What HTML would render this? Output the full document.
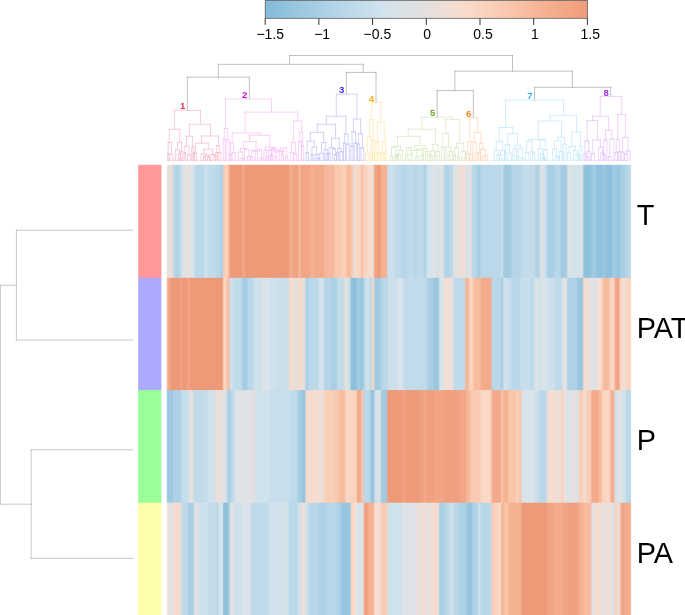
<!DOCTYPE html>
<html><head><meta charset="utf-8"><title>heatmap</title>
<style>
html,body{margin:0;padding:0;background:#fff;}
body{width:685px;height:615px;overflow:hidden;}
svg{display:block;font-family:"Liberation Sans",Arial,sans-serif;}
</style></head><body>
<svg width="685" height="615" viewBox="0 0 685 615">
<rect width="685" height="615" fill="#fff"/>
<defs><linearGradient id="cg" x1="0" x2="1" y1="0" y2="0"><stop offset="0.0000" stop-color="#82BADA"/><stop offset="0.1250" stop-color="#9FCAE1"/><stop offset="0.2500" stop-color="#BAD8EA"/><stop offset="0.3750" stop-color="#D3E3EC"/><stop offset="0.5000" stop-color="#E5E0DE"/><stop offset="0.6250" stop-color="#F9DBCB"/><stop offset="0.7500" stop-color="#F9C8AE"/><stop offset="0.8750" stop-color="#F5B090"/><stop offset="1.0000" stop-color="#EF9C7A"/></linearGradient></defs><rect x="265.2" y="0.35" width="322.2" height="17.95" fill="url(#cg)" stroke="#555" stroke-width="0.75"/><path d="M265.2 18.3L265.2 24.9M318.9 18.3L318.9 24.9M372.6 18.3L372.6 24.9M426.3 18.3L426.3 24.9M480.0 18.3L480.0 24.9M533.7 18.3L533.7 24.9M587.4 18.3L587.4 24.9" stroke="#333" stroke-width="1" fill="none"/><g font-size="14px" fill="#000"><text transform="translate(256.4,39.2) scale(1,1.045)">−1.5</text><text transform="translate(314.2,39.2) scale(1,1.045)">−1</text><text transform="translate(363.6,39.2) scale(1,1.045)">−0.5</text><text transform="translate(423.3,39.2) scale(1,1.045)">0</text><text transform="translate(473.3,39.2) scale(1,1.045)">0.5</text><text transform="translate(531.0,39.2) scale(1,1.045)">1</text><text transform="translate(580.6,39.2) scale(1,1.045)">1.5</text></g>
<path d="M289.6 55.5L512.5 55.5M289.6 55.5L289.6 64.3M512.5 55.5L512.5 71.2M218.3 64.3L363.2 64.3M218.3 64.3L218.3 77.2M363.2 64.3L363.2 72.4M187.3 77.2L249.3 77.2M187.3 77.2L187.3 110.3M249.3 77.2L249.3 98.9M346.3 72.4L376.0 72.4M346.3 72.4L346.3 94.2M376.0 72.4L376.0 102.4M454.8 71.2L572.4 71.2M454.8 71.2L454.8 90.6M572.4 71.2L572.4 87.3M437.2 90.6L473.3 90.6M437.2 90.6L437.2 117.2M473.3 90.6L473.3 117.5M534.6 87.3L610.7 87.3M534.6 87.3L534.6 100.2M610.7 87.3L610.7 96.4" stroke="#9A9A9A" stroke-width="0.62" fill="none" stroke-linecap="square"/>
<path d="M167.6 160.3L167.6 153.7M167.6 153.7L168.8 153.7M168.8 153.7L168.8 160.3M169.8 160.3L169.8 154.3M169.8 154.3L173.0 154.3M173.0 154.3L173.0 160.3M168.2 153.7L168.2 142.4M168.2 142.4L171.4 142.4M171.4 142.4L171.4 154.3M178.1 160.3L178.1 154.3M178.1 154.3L180.6 154.3M180.6 154.3L180.6 160.3M175.6 160.3L175.6 149.9M175.6 149.9L179.4 149.9M179.4 149.9L179.4 154.3M179.4 160.3L179.4 158.5M179.4 158.5L181.2 158.5M181.2 158.5L181.2 160.3M180.3 158.5L180.3 151.8M180.3 151.8L182.9 151.8M182.9 151.8L182.9 160.3M177.5 149.9L177.5 142.4M177.5 142.4L181.6 142.4M181.6 142.4L181.6 151.8M169.3 142.4L169.3 129.3M169.3 129.3L179.8 129.3M179.8 129.3L179.8 142.4M184.2 160.3L184.2 153.0M184.2 153.0L185.4 153.0M185.4 153.0L185.4 160.3M187.4 160.3L187.4 154.7M187.4 154.7L190.4 154.7M190.4 154.7L190.4 160.3M184.8 153.0L184.8 146.3M184.8 146.3L188.9 146.3M188.9 146.3L188.9 154.7M193.0 160.3L193.0 153.3M193.0 153.3L194.2 153.3M194.2 153.3L194.2 160.3M191.8 160.3L191.8 147.0M191.8 147.0L193.6 147.0M193.6 147.0L193.6 153.3M186.5 146.3L186.5 136.2M186.5 136.2L192.5 136.2M192.5 136.2L192.5 147.0M194.1 160.3L194.1 153.2M194.1 153.2L196.6 153.2M196.6 153.2L196.6 160.3M203.3 160.3L203.3 157.0M203.3 157.0L205.4 157.0M205.4 157.0L205.4 160.3M207.5 160.3L207.5 157.0M207.5 157.0L209.6 157.0M209.6 157.0L209.6 160.3M204.3 157.0L204.3 155.5M204.3 155.5L208.6 155.5M208.6 155.5L208.6 157.0M201.1 160.3L201.1 154.0M201.1 154.0L206.5 154.0M206.5 154.0L206.5 155.5M213.1 160.3L213.1 156.0M213.1 156.0L216.0 156.0M216.0 156.0L216.0 160.3M210.3 160.3L210.3 154.5M210.3 154.5L214.5 154.5M214.5 154.5L214.5 156.0M203.8 154.0L203.8 149.2M203.8 149.2L212.4 149.2M212.4 149.2L212.4 154.5M195.3 153.2L195.3 143.2M195.3 143.2L208.3 143.2M208.3 143.2L208.3 149.2M215.8 160.3L215.8 152.6M215.8 152.6L217.8 152.6M217.8 152.6L217.8 160.3M218.2 160.3L218.2 152.8M218.2 152.8L220.9 152.8M220.9 152.8L220.9 160.3M216.8 152.6L216.8 145.6M216.8 145.6L219.6 145.6M219.6 145.6L219.6 152.8M201.5 143.2L201.5 136.0M201.5 136.0L218.4 136.0M218.4 136.0L218.4 145.6M189.4 136.2L189.4 124.3M189.4 124.3L210.5 124.3M210.5 124.3L210.5 136.0M174.5 129.3L174.5 110.3M174.5 110.3L200.5 110.3M200.5 110.3L200.5 124.3" stroke="#F4AFC2" stroke-width="0.62" fill="none" stroke-linecap="square"/><path d="M167.3 160.3L221.5 160.3" stroke="#F4AFC2" stroke-width="0.7" stroke-dasharray="3.4 1.2" fill="none"/><path d="M223.3 160.3L223.3 139.0M223.3 139.0L225.3 139.0M225.3 139.0L225.3 160.3M226.2 160.3L226.2 140.0M226.2 140.0L229.0 140.0M229.0 140.0L229.0 160.3M224.3 139.0L224.3 128.4M224.3 128.4L227.6 128.4M227.6 128.4L227.6 140.0M229.9 160.3L229.9 154.6M229.9 154.6L231.1 154.6M231.1 154.6L231.1 160.3M232.1 160.3L232.1 152.8M232.1 152.8L235.2 152.8M235.2 152.8L235.2 160.3M230.5 154.6L230.5 142.6M230.5 142.6L233.6 142.6M233.6 142.6L233.6 152.8M241.1 160.3L241.1 158.5M241.1 158.5L243.8 158.5M243.8 158.5L243.8 160.3M238.3 160.3L238.3 152.0M238.3 152.0L242.5 152.0M242.5 152.0L242.5 158.5M247.4 160.3L247.4 156.5M247.4 156.5L250.1 156.5M250.1 156.5L250.1 160.3M244.6 160.3L244.6 149.2M244.6 149.2L248.8 149.2M248.8 149.2L248.8 156.5M240.4 152.0L240.4 148.5M240.4 148.5L246.7 148.5M246.7 148.5L246.7 149.2M250.4 160.3L250.4 157.1M250.4 157.1L252.9 157.1M252.9 157.1L252.9 160.3M251.6 157.1L251.6 150.3M251.6 150.3L255.4 150.3M255.4 150.3L255.4 160.3M260.1 160.3L260.1 158.2M260.1 158.2L262.8 158.2M262.8 158.2L262.8 160.3M257.3 160.3L257.3 149.3M257.3 149.3L261.5 149.3M261.5 149.3L261.5 158.2M253.5 150.3L253.5 151.1M253.5 151.1L259.4 151.1M259.4 151.1L259.4 149.3M243.4 148.5L243.4 141.5M243.4 141.5L256.1 141.5M256.1 141.5L256.1 151.1M265.8 160.3L265.8 156.8M265.8 156.8L267.7 156.8M267.7 156.8L267.7 160.3M263.9 160.3L263.9 150.2M263.9 150.2L266.7 150.2M266.7 150.2L266.7 156.8M270.3 160.3L270.3 155.7M270.3 155.7L272.1 155.7M272.1 155.7L272.1 160.3M268.6 160.3L268.6 150.3M268.6 150.3L271.2 150.3M271.2 150.3L271.2 155.7M270.9 160.3L270.9 155.1M270.9 155.1L272.9 155.1M272.9 155.1L272.9 160.3M274.9 160.3L274.9 156.4M274.9 156.4L276.9 156.4M276.9 156.4L276.9 160.3M271.9 155.1L271.9 148.1M271.9 148.1L275.9 148.1M275.9 148.1L275.9 156.4M281.3 160.3L281.3 154.4M281.3 154.4L283.4 154.4M283.4 154.4L283.4 160.3M279.2 160.3L279.2 150.8M279.2 150.8L282.4 150.8M282.4 150.8L282.4 154.4M285.6 160.3L285.6 156.8M285.6 156.8L287.7 156.8M287.7 156.8L287.7 160.3M280.8 150.8L280.8 147.8M280.8 147.8L286.6 147.8M286.6 147.8L286.6 156.8M273.9 148.1L273.9 151.8M273.9 151.8L283.7 151.8M283.7 151.8L283.7 147.8M269.9 150.3L269.9 149.8M269.9 149.8L278.5 149.8M278.5 149.8L278.5 151.8M265.3 150.2L265.3 147.2M265.3 147.2L273.9 147.2M273.9 147.2L273.9 149.8M249.6 141.5L249.6 135.3M249.6 135.3L269.7 135.3M269.7 135.3L269.7 147.2M232.2 142.6L232.2 133.1M232.2 133.1L259.7 133.1M259.7 133.1L259.7 135.3M290.1 160.3L290.1 152.4M290.1 152.4L293.2 152.4M293.2 152.4L293.2 160.3M293.9 160.3L293.9 153.9M293.9 153.9L296.7 153.9M296.7 153.9L296.7 160.3M291.6 152.4L291.6 142.6M291.6 142.6L295.3 142.6M295.3 142.6L295.3 153.9M298.4 160.3L298.4 142.0M298.4 142.0L301.4 142.0M301.4 142.0L301.4 160.3M301.5 160.3L301.5 146.0M301.5 146.0L303.7 146.0M303.7 146.0L303.7 160.3M299.9 142.0L299.9 132.3M299.9 132.3L302.6 132.3M302.6 132.3L302.6 146.0M293.3 142.6L293.3 120.9M293.3 120.9L301.7 120.9M301.7 120.9L301.7 132.3M245.2 133.1L245.2 112.1M245.2 112.1L297.8 112.1M297.8 112.1L297.8 120.9M225.5 128.4L225.5 98.9M225.5 98.9L271.5 98.9M271.5 98.9L271.5 112.1" stroke="#F6B6F4" stroke-width="0.62" fill="none" stroke-linecap="square"/><path d="M223.2 160.3L304.0 160.3" stroke="#F6B6F4" stroke-width="0.7" stroke-dasharray="3.4 1.2" fill="none"/><path d="M306.0 160.3L306.0 152.8M306.0 152.8L308.4 152.8M308.4 152.8L308.4 160.3M311.0 160.3L311.0 154.8M311.0 154.8L313.0 154.8M313.0 154.8L313.0 160.3M317.1 160.3L317.1 158.2M317.1 158.2L319.2 158.2M319.2 158.2L319.2 160.3M315.1 160.3L315.1 154.6M315.1 154.6L318.1 154.6M318.1 154.6L318.1 158.2M312.0 154.8L312.0 147.0M312.0 147.0L316.6 147.0M316.6 147.0L316.6 154.6M307.2 152.8L307.2 141.2M307.2 141.2L314.3 141.2M314.3 141.2L314.3 147.0M319.8 160.3L319.8 153.3M319.8 153.3L323.1 153.3M323.1 153.3L323.1 160.3M326.2 160.3L326.2 153.7M326.2 153.7L328.0 153.7M328.0 153.7L328.0 160.3M324.3 160.3L324.3 149.5M324.3 149.5L327.1 149.5M327.1 149.5L327.1 153.7M321.5 153.3L321.5 142.6M321.5 142.6L325.7 142.6M325.7 142.6L325.7 149.5M310.4 141.2L310.4 132.4M310.4 132.4L323.6 132.4M323.6 132.4L323.6 142.6M328.1 160.3L328.1 153.3M328.1 153.3L330.1 153.3M330.1 153.3L330.1 160.3M334.5 160.3L334.5 154.6M334.5 154.6L336.4 154.6M336.4 154.6L336.4 160.3M332.6 160.3L332.6 148.8M332.6 148.8L335.4 148.8M335.4 148.8L335.4 154.6M329.1 153.3L329.1 147.7M329.1 147.7L334.0 147.7M334.0 147.7L334.0 148.8M336.8 160.3L336.8 152.8M336.8 152.8L338.6 152.8M338.6 152.8L338.6 160.3M340.0 160.3L340.0 151.7M340.0 151.7L342.7 151.7M342.7 151.7L342.7 160.3M337.7 152.8L337.7 148.5M337.7 148.5L341.3 148.5M341.3 148.5L341.3 151.7M331.5 147.7L331.5 138.4M331.5 138.4L339.3 138.4M339.3 138.4L339.3 148.5M317.3 132.4L317.3 124.3M317.3 124.3L335.6 124.3M335.6 124.3L335.6 138.4M343.5 160.3L343.5 143.0M343.5 143.0L345.3 143.0M345.3 143.0L345.3 160.3M346.4 160.3L346.4 144.0M346.4 144.0L349.3 144.0M349.3 144.0L349.3 160.3M344.4 143.0L344.4 134.2M344.4 134.2L347.9 134.2M347.9 134.2L347.9 144.0M326.4 124.3L326.4 116.2M326.4 116.2L345.8 116.2M345.8 116.2L345.8 134.2M350.9 160.3L350.9 146.0M350.9 146.0L353.1 146.0M353.1 146.0L353.1 160.3M354.2 160.3L354.2 143.0M354.2 143.0L356.8 143.0M356.8 143.0L356.8 160.3M352.0 146.0L352.0 131.9M352.0 131.9L355.5 131.9M355.5 131.9L355.5 143.0M357.3 160.3L357.3 144.0M357.3 144.0L359.3 144.0M359.3 144.0L359.3 160.3M360.9 160.3L360.9 148.0M360.9 148.0L363.8 148.0M363.8 148.0L363.8 160.3M358.3 144.0L358.3 133.8M358.3 133.8L362.4 133.8M362.4 133.8L362.4 148.0M353.4 131.9L353.4 119.0M353.4 119.0L360.6 119.0M360.6 119.0L360.6 133.8M336.3 116.2L336.3 94.2M336.3 94.2L356.9 94.2M356.9 94.2L356.9 119.0" stroke="#B8B8F8" stroke-width="0.62" fill="none" stroke-linecap="square"/><path d="M306.2 160.3L363.5 160.3" stroke="#B8B8F8" stroke-width="0.7" stroke-dasharray="3.4 1.2" fill="none"/><path d="M365.7 160.3L365.7 153.7M365.7 153.7L368.9 153.7M368.9 153.7L368.9 160.3M370.2 160.3L370.2 152.4M370.2 152.4L372.0 152.4M372.0 152.4L372.0 160.3M367.3 153.7L367.3 136.6M367.3 136.6L371.1 136.6M371.1 136.6L371.1 152.4M372.5 160.3L372.5 140.0M372.5 140.0L374.5 140.0M374.5 140.0L374.5 160.3M369.3 136.6L369.3 119.7M369.3 119.7L373.5 119.7M373.5 119.7L373.5 140.0M377.7 160.3L377.7 152.7M377.7 152.7L379.9 152.7M379.9 152.7L379.9 160.3M376.0 160.3L376.0 142.1M376.0 142.1L378.8 142.1M378.8 142.1L378.8 152.7M381.4 160.3L381.4 152.8M381.4 152.8L383.6 152.8M383.6 152.8L383.6 160.3M384.6 160.3L384.6 153.2M384.6 153.2L386.8 153.2M386.8 153.2L386.8 160.3M382.5 152.8L382.5 141.2M382.5 141.2L385.7 141.2M385.7 141.2L385.7 153.2M377.4 142.1L377.4 122.4M377.4 122.4L384.3 122.4M384.3 122.4L384.3 141.2M371.4 119.7L371.4 102.4M371.4 102.4L380.7 102.4M380.7 102.4L380.7 122.4" stroke="#FFE49B" stroke-width="0.62" fill="none" stroke-linecap="square"/><path d="M365.0 160.3L386.8 160.3" stroke="#FFE49B" stroke-width="0.7" stroke-dasharray="3.4 1.2" fill="none"/><path d="M390.3 160.3L390.3 156.2M390.3 156.2L392.6 156.2M392.6 156.2L392.6 160.3M395.0 160.3L395.0 155.1M395.0 155.1L397.3 155.1M397.3 155.1L397.3 160.3M391.5 156.2L391.5 147.4M391.5 147.4L396.1 147.4M396.1 147.4L396.1 155.1M396.1 160.3L396.1 155.9M396.1 155.9L398.2 155.9M398.2 155.9L398.2 160.3M397.1 155.9L397.1 154.4M397.1 154.4L400.3 154.4M400.3 154.4L400.3 160.3M398.7 154.4L398.7 150.1M398.7 150.1L402.5 150.1M402.5 150.1L402.5 160.3M393.8 147.4L393.8 146.4M393.8 146.4L400.6 146.4M400.6 146.4L400.6 150.1M405.6 160.3L405.6 154.9M405.6 154.9L407.9 154.9M407.9 154.9L407.9 160.3M410.3 160.3L410.3 153.9M410.3 153.9L412.6 153.9M412.6 153.9L412.6 160.3M406.8 154.9L406.8 147.4M406.8 147.4L411.4 147.4M411.4 147.4L411.4 153.9M415.6 160.3L415.6 156.8M415.6 156.8L418.2 156.8M418.2 156.8L418.2 160.3M420.8 160.3L420.8 155.4M420.8 155.4L423.4 155.4M423.4 155.4L423.4 160.3M416.9 156.8L416.9 149.1M416.9 149.1L422.1 149.1M422.1 149.1L422.1 155.4M409.1 147.4L409.1 150.4M409.1 150.4L419.5 150.4M419.5 150.4L419.5 149.1M427.7 160.3L427.7 154.7M427.7 154.7L429.9 154.7M429.9 154.7L429.9 160.3M425.4 160.3L425.4 151.7M425.4 151.7L428.8 151.7M428.8 151.7L428.8 154.7M423.1 160.3L423.1 148.6M423.1 148.6L427.1 148.6M427.1 148.6L427.1 151.7M414.7 150.4L414.7 145.6M414.7 145.6L425.1 145.6M425.1 145.6L425.1 148.6M397.4 146.4L397.4 136.3M397.4 136.3L420.0 136.3M420.0 136.3L420.0 145.6M430.1 160.3L430.1 156.1M430.1 156.1L432.2 156.1M432.2 156.1L432.2 160.3M431.1 156.1L431.1 150.8M431.1 150.8L434.3 150.8M434.3 150.8L434.3 160.3M434.8 160.3L434.8 155.8M434.8 155.8L437.1 155.8M437.1 155.8L437.1 160.3M436.0 155.8L436.0 151.6M436.0 151.6L439.4 151.6M439.4 151.6L439.4 160.3M432.7 150.8L432.7 144.3M432.7 144.3L437.7 144.3M437.7 144.3L437.7 151.6M408.3 136.3L408.3 129.2M408.3 129.2L435.6 129.2M435.6 129.2L435.6 144.3M441.4 160.3L441.4 147.0M441.4 147.0L444.2 147.0M444.2 147.0L444.2 160.3M448.1 160.3L448.1 155.8M448.1 155.8L450.3 155.8M450.3 155.8L450.3 160.3M449.2 155.8L449.2 151.4M449.2 151.4L452.5 151.4M452.5 151.4L452.5 160.3M446.0 160.3L446.0 147.0M446.0 147.0L450.8 147.0M450.8 147.0L450.8 151.4M442.8 147.0L442.8 133.5M442.8 133.5L448.4 133.5M448.4 133.5L448.4 147.0M453.6 160.3L453.6 155.0M453.6 155.0L455.5 155.0M455.5 155.0L455.5 160.3M457.5 160.3L457.5 156.7M457.5 156.7L459.4 156.7M459.4 156.7L459.4 160.3M454.6 155.0L454.6 147.8M454.6 147.8L458.4 147.8M458.4 147.8L458.4 156.7M464.3 160.3L464.3 157.8M464.3 157.8L466.6 157.8M466.6 157.8L466.6 160.3M461.9 160.3L461.9 151.4M461.9 151.4L465.5 151.4M465.5 151.4L465.5 157.8M456.5 147.8L456.5 143.2M456.5 143.2L463.7 143.2M463.7 143.2L463.7 151.4M445.7 133.5L445.7 119.4M445.7 119.4L459.7 119.4M459.7 119.4L459.7 143.2M421.9 129.2L421.9 117.2M421.9 117.2L452.8 117.2M452.8 117.2L452.8 119.4" stroke="#D0E3B6" stroke-width="0.62" fill="none" stroke-linecap="square"/><path d="M388.5 160.3L464.5 160.3" stroke="#D0E3B6" stroke-width="0.7" stroke-dasharray="3.4 1.2" fill="none"/><path d="M466.3 160.3L466.3 154.0M466.3 154.0L469.1 154.0M469.1 154.0L469.1 160.3M469.7 160.3L469.7 154.0M469.7 154.0L472.1 154.0M472.1 154.0L472.1 160.3M467.7 154.0L467.7 141.6M467.7 141.6L470.9 141.6M470.9 141.6L470.9 154.0M475.2 160.3L475.2 153.1M475.2 153.1L477.2 153.1M477.2 153.1L477.2 160.3M472.9 160.3L472.9 142.0M472.9 142.0L476.2 142.0M476.2 142.0L476.2 153.1M478.6 160.3L478.6 152.7M478.6 152.7L480.8 152.7M480.8 152.7L480.8 160.3M482.7 160.3L482.7 156.9M482.7 156.9L485.0 156.9M485.0 156.9L485.0 160.3M483.9 156.9L483.9 155.4M483.9 155.4L487.4 155.4M487.4 155.4L487.4 160.3M480.4 160.3L480.4 149.4M480.4 149.4L485.6 149.4M485.6 149.4L485.6 155.4M479.7 152.7L479.7 143.2M479.7 143.2L483.0 143.2M483.0 143.2L483.0 149.4M474.6 142.0L474.6 132.3M474.6 132.3L481.0 132.3M481.0 132.3L481.0 143.2M469.6 141.6L469.6 117.5M469.6 117.5L477.7 117.5M477.7 117.5L477.7 132.3" stroke="#FFCFAD" stroke-width="0.62" fill="none" stroke-linecap="square"/><path d="M465.8 160.3L490.5 160.3" stroke="#FFCFAD" stroke-width="0.7" stroke-dasharray="3.4 1.2" fill="none"/><path d="M496.8 160.3L496.8 155.0M496.8 155.0L499.4 155.0M499.4 155.0L499.4 160.3M494.3 160.3L494.3 150.2M494.3 150.2L498.1 150.2M498.1 150.2L498.1 155.0M499.4 160.3L499.4 155.2M499.4 155.2L501.9 155.2M501.9 155.2L501.9 160.3M500.7 155.2L500.7 150.4M500.7 150.4L504.6 150.4M504.6 150.4L504.6 160.3M496.2 150.2L496.2 141.4M496.2 141.4L502.6 141.4M502.6 141.4L502.6 150.4M504.5 160.3L504.5 152.2M504.5 152.2L505.9 152.2M505.9 152.2L505.9 160.3M507.9 160.3L507.9 153.2M507.9 153.2L511.1 153.2M511.1 153.2L511.1 160.3M505.2 152.2L505.2 144.7M505.2 144.7L509.5 144.7M509.5 144.7L509.5 153.2M512.1 160.3L512.1 155.1M512.1 155.1L514.3 155.1M514.3 155.1L514.3 160.3M513.2 155.1L513.2 149.1M513.2 149.1L516.4 149.1M516.4 149.1L516.4 160.3M517.1 160.3L517.1 156.6M517.1 156.6L519.2 156.6M519.2 156.6L519.2 160.3M521.2 160.3L521.2 158.2M521.2 158.2L523.4 158.2M523.4 158.2L523.4 160.3M518.1 156.6L518.1 148.3M518.1 148.3L522.3 148.3M522.3 148.3L522.3 158.2M514.8 149.1L514.8 145.3M514.8 145.3L520.2 145.3M520.2 145.3L520.2 148.3M507.7 144.7L507.7 133.5M507.7 133.5L517.4 133.5M517.4 133.5L517.4 145.3M499.2 141.4L499.2 127.5M499.2 127.5L512.7 127.5M512.7 127.5L512.7 133.5M525.3 160.3L525.3 152.6M525.3 152.6L528.3 152.6M528.3 152.6L528.3 160.3M532.6 160.3L532.6 153.4M532.6 153.4L534.9 153.4M534.9 153.4L534.9 160.3M530.3 160.3L530.3 151.9M530.3 151.9L533.7 151.9M533.7 151.9L533.7 153.4M526.8 152.6L526.8 141.0M526.8 141.0L532.0 141.0M532.0 141.0L532.0 151.9M542.8 160.3L542.8 158.2M542.8 158.2L545.2 158.2M545.2 158.2L545.2 160.3M540.5 160.3L540.5 154.3M540.5 154.3L544.0 154.3M544.0 154.3L544.0 158.2M538.2 160.3L538.2 148.8M538.2 148.8L542.2 148.8M542.2 148.8L542.2 154.3M542.3 160.3L542.3 158.2M542.3 158.2L544.8 158.2M544.8 158.2L544.8 160.3M543.5 158.2L543.5 150.2M543.5 150.2L547.3 150.2M547.3 150.2L547.3 160.3M540.2 148.8L540.2 139.8M540.2 139.8L545.4 139.8M545.4 139.8L545.4 150.2M528.8 141.0L528.8 139.5M528.8 139.5L543.8 139.5M543.8 139.5L543.8 139.8M557.1 160.3L557.1 157.4M557.1 157.4L559.4 157.4M559.4 157.4L559.4 160.3M554.8 160.3L554.8 155.9M554.8 155.9L558.2 155.9M558.2 155.9L558.2 157.4M552.5 160.3L552.5 149.0M552.5 149.0L556.5 149.0M556.5 149.0L556.5 155.9M561.6 160.3L561.6 153.5M561.6 153.5L563.8 153.5M563.8 153.5L563.8 160.3M559.3 160.3L559.3 151.6M559.3 151.6L562.7 151.6M562.7 151.6L562.7 153.5M554.5 149.0L554.5 141.0M554.5 141.0L561.0 141.0M561.0 141.0L561.0 151.6M563.0 160.3L563.0 144.0M563.0 144.0L566.2 144.0M566.2 144.0L566.2 160.3M557.7 141.0L557.7 137.4M557.7 137.4L564.6 137.4M564.6 137.4L564.6 144.0M538.4 139.5L538.4 121.1M538.4 121.1L561.6 121.1M561.6 121.1L561.6 137.4M567.7 160.3L567.7 152.7M567.7 152.7L570.5 152.7M570.5 152.7L570.5 160.3M576.1 160.3L576.1 154.1M576.1 154.1L578.8 154.1M578.8 154.1L578.8 160.3M573.5 160.3L573.5 150.5M573.5 150.5L577.5 150.5M577.5 150.5L577.5 154.1M569.1 152.7L569.1 146.4M569.1 146.4L575.5 146.4M575.5 146.4L575.5 150.5M578.3 160.3L578.3 156.2M578.3 156.2L580.2 156.2M580.2 156.2L580.2 160.3M579.3 156.2L579.3 146.0M579.3 146.0L582.1 146.0M582.1 146.0L582.1 160.3M571.7 146.4L571.7 132.0M571.7 132.0L580.7 132.0M580.7 132.0L580.7 146.0M550.2 121.1L550.2 115.3M550.2 115.3L576.6 115.3M576.6 115.3L576.6 132.0M505.6 127.5L505.6 100.2M505.6 100.2L563.5 100.2M563.5 100.2L563.5 115.3" stroke="#B8E3F9" stroke-width="0.62" fill="none" stroke-linecap="square"/><path d="M492.5 160.3L582.0 160.3" stroke="#B8E3F9" stroke-width="0.7" stroke-dasharray="3.4 1.2" fill="none"/><path d="M584.1 160.3L584.1 153.7M584.1 153.7L585.9 153.7M585.9 153.7L585.9 160.3M586.3 160.3L586.3 156.9M586.3 156.9L588.2 156.9M588.2 156.9L588.2 160.3M587.2 156.9L587.2 151.7M587.2 151.7L590.2 151.7M590.2 151.7L590.2 160.3M585.0 153.7L585.0 141.0M585.0 141.0L588.7 141.0M588.7 141.0L588.7 151.7M591.4 160.3L591.4 153.9M591.4 153.9L594.3 153.9M594.3 153.9L594.3 160.3M603.0 160.3L603.0 154.7M603.0 154.7L605.2 154.7M605.2 154.7L605.2 160.3M600.7 160.3L600.7 153.2M600.7 153.2L604.1 153.2M604.1 153.2L604.1 154.7M598.4 160.3L598.4 147.4M598.4 147.4L602.4 147.4M602.4 147.4L602.4 153.2M592.9 153.9L592.9 140.0M592.9 140.0L600.4 140.0M600.4 140.0L600.4 147.4M587.1 141.0L587.1 120.6M587.1 120.6L597.4 120.6M597.4 120.6L597.4 140.0M603.9 160.3L603.9 140.0M603.9 140.0L606.9 140.0M606.9 140.0L606.9 160.3M608.3 160.3L608.3 156.8M608.3 156.8L611.1 156.8M611.1 156.8L611.1 160.3M609.7 156.8L609.7 139.0M609.7 139.0L613.9 139.0M613.9 139.0L613.9 160.3M605.4 140.0L605.4 130.3M605.4 130.3L611.8 130.3M611.8 130.3L611.8 139.0M592.5 120.6L592.5 116.3M592.5 116.3L608.6 116.3M608.6 116.3L608.6 130.3M615.0 160.3L615.0 152.4M615.0 152.4L617.5 152.4M617.5 152.4L617.5 160.3M618.4 160.3L618.4 151.6M618.4 151.6L620.2 151.6M620.2 151.6L620.2 160.3M616.3 152.4L616.3 139.5M616.3 139.5L619.3 139.5M619.3 139.5L619.3 151.6M621.2 160.3L621.2 152.1M621.2 152.1L623.8 152.1M623.8 152.1L623.8 160.3M624.6 160.3L624.6 154.1M624.6 154.1L627.3 154.1M627.3 154.1L627.3 160.3M626.0 154.1L626.0 151.1M626.0 151.1L630.0 151.1M630.0 151.1L630.0 160.3M622.5 152.1L622.5 137.4M622.5 137.4L628.0 137.4M628.0 137.4L628.0 151.1M617.8 139.5L617.8 114.6M617.8 114.6L625.3 114.6M625.3 114.6L625.3 137.4M600.2 116.3L600.2 96.4M600.2 96.4L621.7 96.4M621.7 96.4L621.7 114.6" stroke="#E2B8F6" stroke-width="0.62" fill="none" stroke-linecap="square"/><path d="M583.6 160.3L630.6 160.3" stroke="#E2B8F6" stroke-width="0.7" stroke-dasharray="3.4 1.2" fill="none"/>
<path d="M16.4 230.2L133.0 230.2M16.4 340.1L133.0 340.1M16.4 230.2L16.4 340.1M31.2 449.8L133.0 449.8M31.2 558.4L133.0 558.4M31.2 449.8L31.2 558.4M0.4 285.3L16.4 285.3M0.4 504.2L31.2 504.2M0.4 285.3L0.4 504.2" stroke="#A8A8A8" stroke-width="0.62" fill="none" stroke-linecap="square"/>
<g font-size="9.6px" font-weight="bold"><text x="185.4" y="109.4" fill="#E2305C" text-anchor="end">1</text><text x="247.4" y="98.0" fill="#E010D8" text-anchor="end">2</text><text x="344.4" y="93.3" fill="#3A32E0" text-anchor="end">3</text><text x="374.1" y="101.5" fill="#F2B01E" text-anchor="end">4</text><text x="435.3" y="116.3" fill="#6FA51C" text-anchor="end">5</text><text x="471.4" y="116.6" fill="#F58A1F" text-anchor="end">6</text><text x="532.7" y="99.3" fill="#2FB2F0" text-anchor="end">7</text><text x="608.8" y="95.5" fill="#A32EE2" text-anchor="end">8</text></g>
<rect x="138.2" y="164.8" width="23.2" height="113.9" fill="#FF9999"/><rect x="138.2" y="277.8" width="23.2" height="113.4" fill="#AAAAFF"/><rect x="138.2" y="390.1" width="23.2" height="113.6" fill="#99FF99"/><rect x="138.2" y="502.7" width="23.2" height="113.3" fill="#FFFFAA"/>
<g><rect x="166" y="164.8" width="1" height="113.9" fill="#FAF9F8"/><rect x="167" y="164.8" width="1" height="113.9" fill="#E9E5E3"/><rect x="168" y="164.8" width="2" height="113.9" fill="#E5E0DE"/><rect x="170" y="164.8" width="1" height="113.9" fill="#E7E0DC"/><rect x="171" y="164.8" width="1" height="113.9" fill="#EDDED5"/><rect x="172" y="164.8" width="1" height="113.9" fill="#E4DCD7"/><rect x="173" y="164.8" width="1" height="113.9" fill="#C4D9E5"/><rect x="174" y="164.8" width="1" height="113.9" fill="#BAD8EA"/><rect x="175" y="164.8" width="1" height="113.9" fill="#B7D7E9"/><rect x="176" y="164.8" width="1" height="113.9" fill="#B0D2E7"/><rect x="177" y="164.8" width="1" height="113.9" fill="#AED2E6"/><rect x="178" y="164.8" width="1" height="113.9" fill="#B3D4E8"/><rect x="179" y="164.8" width="1" height="113.9" fill="#B8D7EA"/><rect x="180" y="164.8" width="1" height="113.9" fill="#BED9EA"/><rect x="181" y="164.8" width="1" height="113.9" fill="#CCDEE9"/><rect x="182" y="164.8" width="1" height="113.9" fill="#DAE2E8"/><rect x="183" y="164.8" width="3" height="113.9" fill="#DDE3E8"/><rect x="186" y="164.8" width="1" height="113.9" fill="#E0E2E5"/><rect x="187" y="164.8" width="1" height="113.9" fill="#E9DFDB"/><rect x="188" y="164.8" width="1" height="113.9" fill="#EDDDD6"/><rect x="189" y="164.8" width="1" height="113.9" fill="#EADED9"/><rect x="190" y="164.8" width="1" height="113.9" fill="#DCE2E6"/><rect x="191" y="164.8" width="2" height="113.9" fill="#D8E3EA"/><rect x="193" y="164.8" width="1" height="113.9" fill="#D5E2EA"/><rect x="194" y="164.8" width="1" height="113.9" fill="#C9DEEA"/><rect x="195" y="164.8" width="1" height="113.9" fill="#BDD9EA"/><rect x="196" y="164.8" width="7" height="113.9" fill="#BAD8EA"/><rect x="203" y="164.8" width="1" height="113.9" fill="#BBD9EA"/><rect x="204" y="164.8" width="1" height="113.9" fill="#C2DCEB"/><rect x="205" y="164.8" width="1" height="113.9" fill="#CDE1EC"/><rect x="206" y="164.8" width="1" height="113.9" fill="#CFE1EC"/><rect x="207" y="164.8" width="1" height="113.9" fill="#C9DFEB"/><rect x="208" y="164.8" width="1" height="113.9" fill="#C2DCEA"/><rect x="209" y="164.8" width="5" height="113.9" fill="#C0DBEA"/><rect x="214" y="164.8" width="1" height="113.9" fill="#BFDBEA"/><rect x="215" y="164.8" width="1" height="113.9" fill="#BCD9EA"/><rect x="216" y="164.8" width="1" height="113.9" fill="#B9D7E9"/><rect x="217" y="164.8" width="2" height="113.9" fill="#B8D7E9"/><rect x="219" y="164.8" width="1" height="113.9" fill="#B6D6E8"/><rect x="220" y="164.8" width="1" height="113.9" fill="#AED2E7"/><rect x="221" y="164.8" width="1" height="113.9" fill="#ACD1E6"/><rect x="222" y="164.8" width="1" height="113.9" fill="#BBCFDB"/><rect x="223" y="164.8" width="1" height="113.9" fill="#EACAB9"/><rect x="224" y="164.8" width="1" height="113.9" fill="#F9C8AF"/><rect x="225" y="164.8" width="1" height="113.9" fill="#FACEB7"/><rect x="226" y="164.8" width="1" height="113.9" fill="#FBD7C4"/><rect x="227" y="164.8" width="1" height="113.9" fill="#F9CCB4"/><rect x="228" y="164.8" width="1" height="113.9" fill="#F6BDA1"/><rect x="229" y="164.8" width="1" height="113.9" fill="#F2AC8E"/><rect x="230" y="164.8" width="1" height="113.9" fill="#EF9D7C"/><rect x="231" y="164.8" width="10" height="113.9" fill="#EE9978"/><rect x="241" y="164.8" width="1" height="113.9" fill="#EF9C7B"/><rect x="242" y="164.8" width="1" height="113.9" fill="#F1A384"/><rect x="243" y="164.8" width="1" height="113.9" fill="#F2A687"/><rect x="244" y="164.8" width="1" height="113.9" fill="#F1A384"/><rect x="245" y="164.8" width="1" height="113.9" fill="#EF9C7B"/><rect x="246" y="164.8" width="42" height="113.9" fill="#EE9978"/><rect x="288" y="164.8" width="1" height="113.9" fill="#EF9C7B"/><rect x="289" y="164.8" width="1" height="113.9" fill="#F1A585"/><rect x="290" y="164.8" width="2" height="113.9" fill="#F4AC8E"/><rect x="292" y="164.8" width="1" height="113.9" fill="#F2A787"/><rect x="293" y="164.8" width="1" height="113.9" fill="#F1A383"/><rect x="294" y="164.8" width="3" height="113.9" fill="#F1A282"/><rect x="297" y="164.8" width="1" height="113.9" fill="#F1A384"/><rect x="298" y="164.8" width="1" height="113.9" fill="#F3AD8F"/><rect x="299" y="164.8" width="1" height="113.9" fill="#F6BA9F"/><rect x="300" y="164.8" width="1" height="113.9" fill="#F4B194"/><rect x="301" y="164.8" width="1" height="113.9" fill="#F2A889"/><rect x="302" y="164.8" width="7" height="113.9" fill="#F2A687"/><rect x="309" y="164.8" width="1" height="113.9" fill="#F3A98A"/><rect x="310" y="164.8" width="1" height="113.9" fill="#F4AD8F"/><rect x="311" y="164.8" width="2" height="113.9" fill="#F4AE90"/><rect x="313" y="164.8" width="1" height="113.9" fill="#F4AD8F"/><rect x="314" y="164.8" width="1" height="113.9" fill="#F3AB8D"/><rect x="315" y="164.8" width="8" height="113.9" fill="#F3AA8B"/><rect x="323" y="164.8" width="1" height="113.9" fill="#F3AC8D"/><rect x="324" y="164.8" width="1" height="113.9" fill="#F5B295"/><rect x="325" y="164.8" width="1" height="113.9" fill="#F6B79B"/><rect x="326" y="164.8" width="7" height="113.9" fill="#F6B89C"/><rect x="333" y="164.8" width="1" height="113.9" fill="#F6B99D"/><rect x="334" y="164.8" width="1" height="113.9" fill="#F7BFA4"/><rect x="335" y="164.8" width="1" height="113.9" fill="#F9C6AC"/><rect x="336" y="164.8" width="5" height="113.9" fill="#F9C8AE"/><rect x="341" y="164.8" width="1" height="113.9" fill="#F9CAB0"/><rect x="342" y="164.8" width="1" height="113.9" fill="#FACEB8"/><rect x="343" y="164.8" width="2" height="113.9" fill="#FAD0BA"/><rect x="345" y="164.8" width="1" height="113.9" fill="#F9CDB6"/><rect x="346" y="164.8" width="1" height="113.9" fill="#F8C2A7"/><rect x="347" y="164.8" width="1" height="113.9" fill="#F6BA9D"/><rect x="348" y="164.8" width="2" height="113.9" fill="#F6B99B"/><rect x="350" y="164.8" width="1" height="113.9" fill="#F7BDA0"/><rect x="351" y="164.8" width="1" height="113.9" fill="#F8C9B0"/><rect x="352" y="164.8" width="1" height="113.9" fill="#F7CFB8"/><rect x="353" y="164.8" width="1" height="113.9" fill="#F0D5C7"/><rect x="354" y="164.8" width="1" height="113.9" fill="#E8DDD8"/><rect x="355" y="164.8" width="1" height="113.9" fill="#ECDDD6"/><rect x="356" y="164.8" width="1" height="113.9" fill="#F7D8C8"/><rect x="357" y="164.8" width="2" height="113.9" fill="#FAD6C4"/><rect x="359" y="164.8" width="1" height="113.9" fill="#FAD5C2"/><rect x="360" y="164.8" width="1" height="113.9" fill="#F9CEB9"/><rect x="361" y="164.8" width="1" height="113.9" fill="#F8C6AD"/><rect x="362" y="164.8" width="1" height="113.9" fill="#F8C5AC"/><rect x="363" y="164.8" width="1" height="113.9" fill="#F9CBB3"/><rect x="364" y="164.8" width="1" height="113.9" fill="#FAD1BC"/><rect x="365" y="164.8" width="1" height="113.9" fill="#FAD3BF"/><rect x="366" y="164.8" width="1" height="113.9" fill="#FAD5C1"/><rect x="367" y="164.8" width="1" height="113.9" fill="#FAD9C9"/><rect x="368" y="164.8" width="2" height="113.9" fill="#FADBCB"/><rect x="370" y="164.8" width="1" height="113.9" fill="#F8DCCD"/><rect x="371" y="164.8" width="1" height="113.9" fill="#F0DED4"/><rect x="372" y="164.8" width="1" height="113.9" fill="#E8E0DB"/><rect x="373" y="164.8" width="1" height="113.9" fill="#E8D4CB"/><rect x="374" y="164.8" width="1" height="113.9" fill="#F0B197"/><rect x="375" y="164.8" width="1" height="113.9" fill="#F2A585"/><rect x="376" y="164.8" width="1" height="113.9" fill="#F2A484"/><rect x="377" y="164.8" width="1" height="113.9" fill="#F09F7E"/><rect x="378" y="164.8" width="1" height="113.9" fill="#EE9A79"/><rect x="379" y="164.8" width="1" height="113.9" fill="#EF9B7A"/><rect x="380" y="164.8" width="1" height="113.9" fill="#F1A484"/><rect x="381" y="164.8" width="1" height="113.9" fill="#F4AF90"/><rect x="382" y="164.8" width="4" height="113.9" fill="#F5B293"/><rect x="386" y="164.8" width="1" height="113.9" fill="#EEB9A1"/><rect x="387" y="164.8" width="1" height="113.9" fill="#D9D1D0"/><rect x="388" y="164.8" width="1" height="113.9" fill="#CEDEE8"/><rect x="389" y="164.8" width="5" height="113.9" fill="#CCE0EC"/><rect x="394" y="164.8" width="1" height="113.9" fill="#CADFEC"/><rect x="395" y="164.8" width="1" height="113.9" fill="#C3DCEB"/><rect x="396" y="164.8" width="1" height="113.9" fill="#C0DAEA"/><rect x="397" y="164.8" width="3" height="113.9" fill="#BFDAEA"/><rect x="400" y="164.8" width="1" height="113.9" fill="#BDD9EA"/><rect x="401" y="164.8" width="1" height="113.9" fill="#B7D6E8"/><rect x="402" y="164.8" width="4" height="113.9" fill="#B5D5E8"/><rect x="406" y="164.8" width="1" height="113.9" fill="#B7D6E8"/><rect x="407" y="164.8" width="1" height="113.9" fill="#BDD9EA"/><rect x="408" y="164.8" width="5" height="113.9" fill="#BFDAEA"/><rect x="413" y="164.8" width="1" height="113.9" fill="#BDD9EA"/><rect x="414" y="164.8" width="1" height="113.9" fill="#B7D6E8"/><rect x="415" y="164.8" width="1" height="113.9" fill="#B6D6E8"/><rect x="416" y="164.8" width="1" height="113.9" fill="#BAD7E9"/><rect x="417" y="164.8" width="1" height="113.9" fill="#BED9EA"/><rect x="418" y="164.8" width="4" height="113.9" fill="#BFDAEA"/><rect x="422" y="164.8" width="1" height="113.9" fill="#BDD9EA"/><rect x="423" y="164.8" width="1" height="113.9" fill="#B7D6E8"/><rect x="424" y="164.8" width="1" height="113.9" fill="#B1D3E6"/><rect x="425" y="164.8" width="1" height="113.9" fill="#B2D3E6"/><rect x="426" y="164.8" width="1" height="113.9" fill="#BFD9E9"/><rect x="427" y="164.8" width="1" height="113.9" fill="#CFE1EB"/><rect x="428" y="164.8" width="3" height="113.9" fill="#D3E3EC"/><rect x="431" y="164.8" width="1" height="113.9" fill="#D7E3EA"/><rect x="432" y="164.8" width="1" height="113.9" fill="#DCE2E6"/><rect x="433" y="164.8" width="3" height="113.9" fill="#DEE2E5"/><rect x="436" y="164.8" width="1" height="113.9" fill="#DBE2E6"/><rect x="437" y="164.8" width="1" height="113.9" fill="#D3E2EA"/><rect x="438" y="164.8" width="1" height="113.9" fill="#D5E2E9"/><rect x="439" y="164.8" width="1" height="113.9" fill="#DDE1E4"/><rect x="440" y="164.8" width="3" height="113.9" fill="#E0E1E3"/><rect x="443" y="164.8" width="1" height="113.9" fill="#D7DEE4"/><rect x="444" y="164.8" width="1" height="113.9" fill="#BCD7E6"/><rect x="445" y="164.8" width="1" height="113.9" fill="#B1D3E7"/><rect x="446" y="164.8" width="2" height="113.9" fill="#B0D3E7"/><rect x="448" y="164.8" width="1" height="113.9" fill="#B2D4E7"/><rect x="449" y="164.8" width="1" height="113.9" fill="#B7D6E9"/><rect x="450" y="164.8" width="1" height="113.9" fill="#BAD8EA"/><rect x="451" y="164.8" width="1" height="113.9" fill="#BBD8EA"/><rect x="452" y="164.8" width="1" height="113.9" fill="#C5DAE8"/><rect x="453" y="164.8" width="1" height="113.9" fill="#DCDFE3"/><rect x="454" y="164.8" width="4" height="113.9" fill="#E3E1E1"/><rect x="458" y="164.8" width="1" height="113.9" fill="#E5E1E0"/><rect x="459" y="164.8" width="1" height="113.9" fill="#EADFDA"/><rect x="460" y="164.8" width="1" height="113.9" fill="#EFDED6"/><rect x="461" y="164.8" width="4" height="113.9" fill="#F0DED5"/><rect x="465" y="164.8" width="1" height="113.9" fill="#EADFDA"/><rect x="466" y="164.8" width="1" height="113.9" fill="#D9E2E7"/><rect x="467" y="164.8" width="1" height="113.9" fill="#D3E3EC"/><rect x="468" y="164.8" width="1" height="113.9" fill="#D5E3EB"/><rect x="469" y="164.8" width="1" height="113.9" fill="#DCE1E5"/><rect x="470" y="164.8" width="1" height="113.9" fill="#E4DFDE"/><rect x="471" y="164.8" width="1" height="113.9" fill="#D9DCDF"/><rect x="472" y="164.8" width="1" height="113.9" fill="#C0D8E7"/><rect x="473" y="164.8" width="3" height="113.9" fill="#B8D7E9"/><rect x="476" y="164.8" width="1" height="113.9" fill="#B4D5E8"/><rect x="477" y="164.8" width="1" height="113.9" fill="#A9CFE4"/><rect x="478" y="164.8" width="1" height="113.9" fill="#A5CDE3"/><rect x="479" y="164.8" width="1" height="113.9" fill="#A7CEE4"/><rect x="480" y="164.8" width="1" height="113.9" fill="#AED2E6"/><rect x="481" y="164.8" width="1" height="113.9" fill="#B7D7E9"/><rect x="482" y="164.8" width="18" height="113.9" fill="#BAD8EA"/><rect x="500" y="164.8" width="1" height="113.9" fill="#BEDAEA"/><rect x="501" y="164.8" width="1" height="113.9" fill="#C8DEEC"/><rect x="502" y="164.8" width="1" height="113.9" fill="#C5DDEA"/><rect x="503" y="164.8" width="1" height="113.9" fill="#AFD2E5"/><rect x="504" y="164.8" width="1" height="113.9" fill="#A4CCE2"/><rect x="505" y="164.8" width="5" height="113.9" fill="#A2CBE2"/><rect x="510" y="164.8" width="1" height="113.9" fill="#A5CCE3"/><rect x="511" y="164.8" width="1" height="113.9" fill="#AED1E6"/><rect x="512" y="164.8" width="1" height="113.9" fill="#B4D4E8"/><rect x="513" y="164.8" width="7" height="113.9" fill="#B5D5E8"/><rect x="520" y="164.8" width="1" height="113.9" fill="#B6D6E8"/><rect x="521" y="164.8" width="1" height="113.9" fill="#BCD8E9"/><rect x="522" y="164.8" width="1" height="113.9" fill="#C2DBEA"/><rect x="523" y="164.8" width="11" height="113.9" fill="#C4DCEA"/><rect x="534" y="164.8" width="1" height="113.9" fill="#C0DAE9"/><rect x="535" y="164.8" width="1" height="113.9" fill="#B4D5E8"/><rect x="536" y="164.8" width="2" height="113.9" fill="#B0D3E7"/><rect x="538" y="164.8" width="1" height="113.9" fill="#B2D4E7"/><rect x="539" y="164.8" width="1" height="113.9" fill="#BED8E7"/><rect x="540" y="164.8" width="1" height="113.9" fill="#D6E0E6"/><rect x="541" y="164.8" width="1" height="113.9" fill="#DDE2E6"/><rect x="542" y="164.8" width="1" height="113.9" fill="#DCE2E6"/><rect x="543" y="164.8" width="1" height="113.9" fill="#D8E1E8"/><rect x="544" y="164.8" width="1" height="113.9" fill="#CFE0EB"/><rect x="545" y="164.8" width="1" height="113.9" fill="#C9DFEB"/><rect x="546" y="164.8" width="1" height="113.9" fill="#BCD9E8"/><rect x="547" y="164.8" width="1" height="113.9" fill="#ACD1E5"/><rect x="548" y="164.8" width="5" height="113.9" fill="#A8CFE4"/><rect x="553" y="164.8" width="1" height="113.9" fill="#A9CFE4"/><rect x="554" y="164.8" width="1" height="113.9" fill="#ADD2E6"/><rect x="555" y="164.8" width="1" height="113.9" fill="#B5D6E8"/><rect x="556" y="164.8" width="3" height="113.9" fill="#B8D7E9"/><rect x="559" y="164.8" width="1" height="113.9" fill="#B6D6E8"/><rect x="560" y="164.8" width="1" height="113.9" fill="#AED2E6"/><rect x="561" y="164.8" width="1" height="113.9" fill="#A5CCE3"/><rect x="562" y="164.8" width="4" height="113.9" fill="#A2CBE2"/><rect x="566" y="164.8" width="1" height="113.9" fill="#ACCFE2"/><rect x="567" y="164.8" width="1" height="113.9" fill="#CCDAE3"/><rect x="568" y="164.8" width="1" height="113.9" fill="#DEE0E3"/><rect x="569" y="164.8" width="1" height="113.9" fill="#DFE1E3"/><rect x="570" y="164.8" width="1" height="113.9" fill="#DCE2E6"/><rect x="571" y="164.8" width="1" height="113.9" fill="#D5E3EB"/><rect x="572" y="164.8" width="7" height="113.9" fill="#D3E3EC"/><rect x="579" y="164.8" width="1" height="113.9" fill="#D5E3EB"/><rect x="580" y="164.8" width="1" height="113.9" fill="#DBE2E6"/><rect x="581" y="164.8" width="1" height="113.9" fill="#DFE1E4"/><rect x="582" y="164.8" width="1" height="113.9" fill="#D3DCE2"/><rect x="583" y="164.8" width="1" height="113.9" fill="#A9CBDF"/><rect x="584" y="164.8" width="1" height="113.9" fill="#92C2DD"/><rect x="585" y="164.8" width="5" height="113.9" fill="#8FC1DD"/><rect x="590" y="164.8" width="1" height="113.9" fill="#91C2DE"/><rect x="591" y="164.8" width="1" height="113.9" fill="#99C7DF"/><rect x="592" y="164.8" width="1" height="113.9" fill="#9EC9E1"/><rect x="593" y="164.8" width="2" height="113.9" fill="#9FCAE1"/><rect x="595" y="164.8" width="1" height="113.9" fill="#9DC9E1"/><rect x="596" y="164.8" width="1" height="113.9" fill="#96C5DF"/><rect x="597" y="164.8" width="1" height="113.9" fill="#90C2DD"/><rect x="598" y="164.8" width="3" height="113.9" fill="#8FC1DD"/><rect x="601" y="164.8" width="1" height="113.9" fill="#91C2DD"/><rect x="602" y="164.8" width="1" height="113.9" fill="#96C5DF"/><rect x="603" y="164.8" width="2" height="113.9" fill="#9AC7E0"/><rect x="605" y="164.8" width="1" height="113.9" fill="#97C5DF"/><rect x="606" y="164.8" width="1" height="113.9" fill="#8FC1DE"/><rect x="607" y="164.8" width="3" height="113.9" fill="#8DC0DD"/><rect x="610" y="164.8" width="1" height="113.9" fill="#8EC1DD"/><rect x="611" y="164.8" width="1" height="113.9" fill="#94C4DF"/><rect x="612" y="164.8" width="1" height="113.9" fill="#9CC9E0"/><rect x="613" y="164.8" width="3" height="113.9" fill="#9FCAE1"/><rect x="616" y="164.8" width="1" height="113.9" fill="#9BC8E0"/><rect x="617" y="164.8" width="1" height="113.9" fill="#96C5DF"/><rect x="618" y="164.8" width="1" height="113.9" fill="#94C4DF"/><rect x="619" y="164.8" width="1" height="113.9" fill="#96C5DF"/><rect x="620" y="164.8" width="1" height="113.9" fill="#9ECAE1"/><rect x="621" y="164.8" width="1" height="113.9" fill="#A6CEE3"/><rect x="622" y="164.8" width="2" height="113.9" fill="#A8CFE4"/><rect x="624" y="164.8" width="1" height="113.9" fill="#A9D0E4"/><rect x="625" y="164.8" width="1" height="113.9" fill="#AFD3E6"/><rect x="626" y="164.8" width="1" height="113.9" fill="#B6D6E8"/><rect x="627" y="164.8" width="3" height="113.9" fill="#B8D7E9"/><rect x="630" y="164.8" width="1" height="113.9" fill="#C5DEED"/><rect x="631" y="164.8" width="1" height="113.9" fill="#F8FBFD"/></g><g><rect x="166" y="277.8" width="1" height="113.4" fill="#FDEEE8"/><rect x="167" y="277.8" width="1" height="113.4" fill="#F5B79D"/><rect x="168" y="277.8" width="1" height="113.4" fill="#F3A98A"/><rect x="169" y="277.8" width="1" height="113.4" fill="#F2A788"/><rect x="170" y="277.8" width="1" height="113.4" fill="#F0A181"/><rect x="171" y="277.8" width="1" height="113.4" fill="#EE9B7A"/><rect x="172" y="277.8" width="7" height="113.4" fill="#EE9978"/><rect x="179" y="277.8" width="1" height="113.4" fill="#EE9A79"/><rect x="180" y="277.8" width="1" height="113.4" fill="#F0A080"/><rect x="181" y="277.8" width="1" height="113.4" fill="#F1A384"/><rect x="182" y="277.8" width="1" height="113.4" fill="#EF9C7C"/><rect x="183" y="277.8" width="3" height="113.4" fill="#EE9978"/><rect x="186" y="277.8" width="1" height="113.4" fill="#EF9B7A"/><rect x="187" y="277.8" width="1" height="113.4" fill="#F0A282"/><rect x="188" y="277.8" width="1" height="113.4" fill="#F1A484"/><rect x="189" y="277.8" width="1" height="113.4" fill="#F0A282"/><rect x="190" y="277.8" width="1" height="113.4" fill="#EF9B7A"/><rect x="191" y="277.8" width="31" height="113.4" fill="#EE9978"/><rect x="222" y="277.8" width="1" height="113.4" fill="#F1A586"/><rect x="223" y="277.8" width="1" height="113.4" fill="#F8C9B2"/><rect x="224" y="277.8" width="1" height="113.4" fill="#FBD5C0"/><rect x="225" y="277.8" width="1" height="113.4" fill="#FBD3BD"/><rect x="226" y="277.8" width="1" height="113.4" fill="#F9CAB2"/><rect x="227" y="277.8" width="1" height="113.4" fill="#F7C0A4"/><rect x="228" y="277.8" width="1" height="113.4" fill="#F2BEA5"/><rect x="229" y="277.8" width="1" height="113.4" fill="#E2CCC4"/><rect x="230" y="277.8" width="1" height="113.4" fill="#D1DCE4"/><rect x="231" y="277.8" width="2" height="113.4" fill="#CDE0EC"/><rect x="233" y="277.8" width="1" height="113.4" fill="#CADFEC"/><rect x="234" y="277.8" width="1" height="113.4" fill="#C3DCEA"/><rect x="235" y="277.8" width="6" height="113.4" fill="#C0DBEA"/><rect x="241" y="277.8" width="1" height="113.4" fill="#BBD8E9"/><rect x="242" y="277.8" width="1" height="113.4" fill="#AAD0E4"/><rect x="243" y="277.8" width="3" height="113.4" fill="#A5CDE3"/><rect x="246" y="277.8" width="1" height="113.4" fill="#A6CEE3"/><rect x="247" y="277.8" width="1" height="113.4" fill="#ADD1E6"/><rect x="248" y="277.8" width="1" height="113.4" fill="#B7D6E9"/><rect x="249" y="277.8" width="3" height="113.4" fill="#BAD8EA"/><rect x="252" y="277.8" width="1" height="113.4" fill="#BCD9EA"/><rect x="253" y="277.8" width="1" height="113.4" fill="#C3DCEB"/><rect x="254" y="277.8" width="1" height="113.4" fill="#CCE1EC"/><rect x="255" y="277.8" width="6" height="113.4" fill="#CFE2EC"/><rect x="261" y="277.8" width="1" height="113.4" fill="#D1E2EB"/><rect x="262" y="277.8" width="1" height="113.4" fill="#D8E3EA"/><rect x="263" y="277.8" width="1" height="113.4" fill="#DCE3E8"/><rect x="264" y="277.8" width="4" height="113.4" fill="#DDE3E8"/><rect x="268" y="277.8" width="1" height="113.4" fill="#DAE3E9"/><rect x="269" y="277.8" width="1" height="113.4" fill="#D2E2EB"/><rect x="270" y="277.8" width="5" height="113.4" fill="#CFE2EC"/><rect x="275" y="277.8" width="1" height="113.4" fill="#CEE2EC"/><rect x="276" y="277.8" width="1" height="113.4" fill="#CCE0EB"/><rect x="277" y="277.8" width="11" height="113.4" fill="#CBDFEB"/><rect x="288" y="277.8" width="1" height="113.4" fill="#D1DFE7"/><rect x="289" y="277.8" width="1" height="113.4" fill="#E5DDD9"/><rect x="290" y="277.8" width="1" height="113.4" fill="#F6DBCE"/><rect x="291" y="277.8" width="1" height="113.4" fill="#FADBCB"/><rect x="292" y="277.8" width="1" height="113.4" fill="#F6DCCF"/><rect x="293" y="277.8" width="1" height="113.4" fill="#EADFD9"/><rect x="294" y="277.8" width="3" height="113.4" fill="#E6E0DD"/><rect x="297" y="277.8" width="1" height="113.4" fill="#EADED8"/><rect x="298" y="277.8" width="1" height="113.4" fill="#F6DACB"/><rect x="299" y="277.8" width="1" height="113.4" fill="#FAD8C6"/><rect x="300" y="277.8" width="1" height="113.4" fill="#F6D9CA"/><rect x="301" y="277.8" width="1" height="113.4" fill="#ECDED7"/><rect x="302" y="277.8" width="2" height="113.4" fill="#E8DFDB"/><rect x="304" y="277.8" width="1" height="113.4" fill="#E0DDDC"/><rect x="305" y="277.8" width="1" height="113.4" fill="#C4D6E0"/><rect x="306" y="277.8" width="1" height="113.4" fill="#ADD0E3"/><rect x="307" y="277.8" width="1" height="113.4" fill="#ABD0E5"/><rect x="308" y="277.8" width="1" height="113.4" fill="#B3D5E8"/><rect x="309" y="277.8" width="1" height="113.4" fill="#B9D7EA"/><rect x="310" y="277.8" width="7" height="113.4" fill="#BAD8EA"/><rect x="317" y="277.8" width="1" height="113.4" fill="#BCD9EA"/><rect x="318" y="277.8" width="1" height="113.4" fill="#C6DEEB"/><rect x="319" y="277.8" width="1" height="113.4" fill="#D0E2EC"/><rect x="320" y="277.8" width="1" height="113.4" fill="#D3E3EC"/><rect x="321" y="277.8" width="1" height="113.4" fill="#D1E2EC"/><rect x="322" y="277.8" width="1" height="113.4" fill="#CFE2EC"/><rect x="323" y="277.8" width="1" height="113.4" fill="#CBE0EB"/><rect x="324" y="277.8" width="1" height="113.4" fill="#BDD9E9"/><rect x="325" y="277.8" width="1" height="113.4" fill="#B2D3E6"/><rect x="326" y="277.8" width="1" height="113.4" fill="#B0D3E6"/><rect x="327" y="277.8" width="1" height="113.4" fill="#B5D5E8"/><rect x="328" y="277.8" width="1" height="113.4" fill="#B7D7E9"/><rect x="329" y="277.8" width="1" height="113.4" fill="#B7D6E9"/><rect x="330" y="277.8" width="1" height="113.4" fill="#B1D3E7"/><rect x="331" y="277.8" width="1" height="113.4" fill="#AAD0E5"/><rect x="332" y="277.8" width="4" height="113.4" fill="#A8CFE4"/><rect x="336" y="277.8" width="1" height="113.4" fill="#AED2E5"/><rect x="337" y="277.8" width="1" height="113.4" fill="#BED9E9"/><rect x="338" y="277.8" width="5" height="113.4" fill="#C4DCEA"/><rect x="343" y="277.8" width="1" height="113.4" fill="#C8DCE8"/><rect x="344" y="277.8" width="1" height="113.4" fill="#D7DEE3"/><rect x="345" y="277.8" width="1" height="113.4" fill="#E3E0DE"/><rect x="346" y="277.8" width="1" height="113.4" fill="#E6E0DD"/><rect x="347" y="277.8" width="1" height="113.4" fill="#E0E1E1"/><rect x="348" y="277.8" width="1" height="113.4" fill="#D3E2E9"/><rect x="349" y="277.8" width="1" height="113.4" fill="#C8DFEA"/><rect x="350" y="277.8" width="1" height="113.4" fill="#AED1E4"/><rect x="351" y="277.8" width="1" height="113.4" fill="#94C3DE"/><rect x="352" y="277.8" width="3" height="113.4" fill="#8DC0DD"/><rect x="355" y="277.8" width="1" height="113.4" fill="#8FC1DD"/><rect x="356" y="277.8" width="1" height="113.4" fill="#96C5DF"/><rect x="357" y="277.8" width="1" height="113.4" fill="#9FCAE1"/><rect x="358" y="277.8" width="1" height="113.4" fill="#A2CBE2"/><rect x="359" y="277.8" width="1" height="113.4" fill="#A1CAE2"/><rect x="360" y="277.8" width="1" height="113.4" fill="#9CC8E1"/><rect x="361" y="277.8" width="1" height="113.4" fill="#96C5DF"/><rect x="362" y="277.8" width="1" height="113.4" fill="#99C7E0"/><rect x="363" y="277.8" width="1" height="113.4" fill="#AAD0E5"/><rect x="364" y="277.8" width="1" height="113.4" fill="#B7D6E8"/><rect x="365" y="277.8" width="1" height="113.4" fill="#C4DCEA"/><rect x="366" y="277.8" width="1" height="113.4" fill="#CDE1EC"/><rect x="367" y="277.8" width="2" height="113.4" fill="#CFE2EC"/><rect x="369" y="277.8" width="1" height="113.4" fill="#C8DFEB"/><rect x="370" y="277.8" width="1" height="113.4" fill="#BBD5E3"/><rect x="371" y="277.8" width="1" height="113.4" fill="#D2D4D6"/><rect x="372" y="277.8" width="1" height="113.4" fill="#F2D8CB"/><rect x="373" y="277.8" width="1" height="113.4" fill="#ECD7CC"/><rect x="374" y="277.8" width="1" height="113.4" fill="#BCCFD9"/><rect x="375" y="277.8" width="1" height="113.4" fill="#A3CBE0"/><rect x="376" y="277.8" width="3" height="113.4" fill="#9FCAE1"/><rect x="379" y="277.8" width="1" height="113.4" fill="#A0CBE1"/><rect x="380" y="277.8" width="1" height="113.4" fill="#A7CEE4"/><rect x="381" y="277.8" width="1" height="113.4" fill="#B2D3E7"/><rect x="382" y="277.8" width="1" height="113.4" fill="#B6D5E8"/><rect x="383" y="277.8" width="1" height="113.4" fill="#B8D6E9"/><rect x="384" y="277.8" width="3" height="113.4" fill="#BAD8EA"/><rect x="387" y="277.8" width="1" height="113.4" fill="#BFDAEB"/><rect x="388" y="277.8" width="1" height="113.4" fill="#C9DFEC"/><rect x="389" y="277.8" width="7" height="113.4" fill="#CCE0EC"/><rect x="396" y="277.8" width="1" height="113.4" fill="#CDE0EC"/><rect x="397" y="277.8" width="1" height="113.4" fill="#D3E2EB"/><rect x="398" y="277.8" width="1" height="113.4" fill="#D7E4EB"/><rect x="399" y="277.8" width="3" height="113.4" fill="#D8E4EB"/><rect x="402" y="277.8" width="1" height="113.4" fill="#D4E3EB"/><rect x="403" y="277.8" width="1" height="113.4" fill="#C8DEEA"/><rect x="404" y="277.8" width="1" height="113.4" fill="#C1DBEA"/><rect x="405" y="277.8" width="21" height="113.4" fill="#C0DBEA"/><rect x="426" y="277.8" width="1" height="113.4" fill="#BDD9E9"/><rect x="427" y="277.8" width="1" height="113.4" fill="#B2D4E7"/><rect x="428" y="277.8" width="1" height="113.4" fill="#ABD0E5"/><rect x="429" y="277.8" width="3" height="113.4" fill="#AACFE5"/><rect x="432" y="277.8" width="1" height="113.4" fill="#A7CEE4"/><rect x="433" y="277.8" width="1" height="113.4" fill="#9FCAE2"/><rect x="434" y="277.8" width="1" height="113.4" fill="#9BC7E0"/><rect x="435" y="277.8" width="3" height="113.4" fill="#9AC7E0"/><rect x="438" y="277.8" width="1" height="113.4" fill="#A6CDE2"/><rect x="439" y="277.8" width="1" height="113.4" fill="#C9DDE9"/><rect x="440" y="277.8" width="3" height="113.4" fill="#D5E3EB"/><rect x="443" y="277.8" width="1" height="113.4" fill="#DBE2E6"/><rect x="444" y="277.8" width="1" height="113.4" fill="#EEDFD7"/><rect x="445" y="277.8" width="1" height="113.4" fill="#F6DDD1"/><rect x="446" y="277.8" width="1" height="113.4" fill="#F5DDD2"/><rect x="447" y="277.8" width="1" height="113.4" fill="#EFDFD6"/><rect x="448" y="277.8" width="4" height="113.4" fill="#EDDFD8"/><rect x="452" y="277.8" width="1" height="113.4" fill="#E9DFD9"/><rect x="453" y="277.8" width="1" height="113.4" fill="#D9DDE0"/><rect x="454" y="277.8" width="1" height="113.4" fill="#C5DBE8"/><rect x="455" y="277.8" width="9" height="113.4" fill="#BFDAEA"/><rect x="464" y="277.8" width="1" height="113.4" fill="#C7D5DF"/><rect x="465" y="277.8" width="1" height="113.4" fill="#E1C4B7"/><rect x="466" y="277.8" width="1" height="113.4" fill="#F3B89D"/><rect x="467" y="277.8" width="1" height="113.4" fill="#F6B698"/><rect x="468" y="277.8" width="1" height="113.4" fill="#F7BCA0"/><rect x="469" y="277.8" width="1" height="113.4" fill="#FACDB6"/><rect x="470" y="277.8" width="2" height="113.4" fill="#FBD3BE"/><rect x="472" y="277.8" width="1" height="113.4" fill="#FAD0BA"/><rect x="473" y="277.8" width="1" height="113.4" fill="#F9C5AB"/><rect x="474" y="277.8" width="1" height="113.4" fill="#F7BDA1"/><rect x="475" y="277.8" width="4" height="113.4" fill="#F7BC9F"/><rect x="479" y="277.8" width="1" height="113.4" fill="#F7BA9D"/><rect x="480" y="277.8" width="1" height="113.4" fill="#F5B496"/><rect x="481" y="277.8" width="1" height="113.4" fill="#F3AB8D"/><rect x="482" y="277.8" width="8" height="113.4" fill="#F3A98A"/><rect x="490" y="277.8" width="1" height="113.4" fill="#EDAE94"/><rect x="491" y="277.8" width="1" height="113.4" fill="#D6C0BA"/><rect x="492" y="277.8" width="1" height="113.4" fill="#BED2DF"/><rect x="493" y="277.8" width="7" height="113.4" fill="#B8D7E9"/><rect x="500" y="277.8" width="1" height="113.4" fill="#B4D5E8"/><rect x="501" y="277.8" width="1" height="113.4" fill="#A9CFE4"/><rect x="502" y="277.8" width="1" height="113.4" fill="#ACD0E4"/><rect x="503" y="277.8" width="1" height="113.4" fill="#C2DBE9"/><rect x="504" y="277.8" width="1" height="113.4" fill="#CEE1EC"/><rect x="505" y="277.8" width="2" height="113.4" fill="#D0E2EC"/><rect x="507" y="277.8" width="1" height="113.4" fill="#CEE1EC"/><rect x="508" y="277.8" width="1" height="113.4" fill="#C9DEEB"/><rect x="509" y="277.8" width="1" height="113.4" fill="#C5DCEA"/><rect x="510" y="277.8" width="1" height="113.4" fill="#C4DCEA"/><rect x="511" y="277.8" width="1" height="113.4" fill="#C2DBEA"/><rect x="512" y="277.8" width="1" height="113.4" fill="#BAD8E9"/><rect x="513" y="277.8" width="6" height="113.4" fill="#B8D7E9"/><rect x="519" y="277.8" width="1" height="113.4" fill="#BBD8E9"/><rect x="520" y="277.8" width="1" height="113.4" fill="#C5DDEB"/><rect x="521" y="277.8" width="8" height="113.4" fill="#C8DEEB"/><rect x="529" y="277.8" width="1" height="113.4" fill="#C7DDEB"/><rect x="530" y="277.8" width="1" height="113.4" fill="#C2DBEA"/><rect x="531" y="277.8" width="2" height="113.4" fill="#BFDAEA"/><rect x="533" y="277.8" width="1" height="113.4" fill="#C1DBEA"/><rect x="534" y="277.8" width="1" height="113.4" fill="#CDDEE8"/><rect x="535" y="277.8" width="1" height="113.4" fill="#DAE1E6"/><rect x="536" y="277.8" width="1" height="113.4" fill="#DEE2E5"/><rect x="537" y="277.8" width="1" height="113.4" fill="#DDE2E6"/><rect x="538" y="277.8" width="1" height="113.4" fill="#D7E2E8"/><rect x="539" y="277.8" width="1" height="113.4" fill="#D1E2EB"/><rect x="540" y="277.8" width="1" height="113.4" fill="#D2E2EB"/><rect x="541" y="277.8" width="1" height="113.4" fill="#DAE3E9"/><rect x="542" y="277.8" width="1" height="113.4" fill="#DBE3E8"/><rect x="543" y="277.8" width="1" height="113.4" fill="#D8E3EA"/><rect x="544" y="277.8" width="1" height="113.4" fill="#D6E3EB"/><rect x="545" y="277.8" width="2" height="113.4" fill="#D5E3EB"/><rect x="547" y="277.8" width="1" height="113.4" fill="#D2E2EB"/><rect x="548" y="277.8" width="1" height="113.4" fill="#CDE0EC"/><rect x="549" y="277.8" width="5" height="113.4" fill="#CCE0EC"/><rect x="554" y="277.8" width="1" height="113.4" fill="#C9DFEC"/><rect x="555" y="277.8" width="1" height="113.4" fill="#C2DBEA"/><rect x="556" y="277.8" width="5" height="113.4" fill="#BFDAEA"/><rect x="561" y="277.8" width="1" height="113.4" fill="#C6DBE9"/><rect x="562" y="277.8" width="1" height="113.4" fill="#D9E0E4"/><rect x="563" y="277.8" width="3" height="113.4" fill="#E0E1E3"/><rect x="566" y="277.8" width="1" height="113.4" fill="#D8DEE3"/><rect x="567" y="277.8" width="1" height="113.4" fill="#BDD6E5"/><rect x="568" y="277.8" width="1" height="113.4" fill="#AFD2E6"/><rect x="569" y="277.8" width="7" height="113.4" fill="#ADD1E6"/><rect x="576" y="277.8" width="1" height="113.4" fill="#ABD0E5"/><rect x="577" y="277.8" width="1" height="113.4" fill="#A2CBE3"/><rect x="578" y="277.8" width="1" height="113.4" fill="#9CC8E0"/><rect x="579" y="277.8" width="3" height="113.4" fill="#9AC7E0"/><rect x="582" y="277.8" width="1" height="113.4" fill="#A9CBDD"/><rect x="583" y="277.8" width="1" height="113.4" fill="#D9D6D5"/><rect x="584" y="277.8" width="1" height="113.4" fill="#F3DCD1"/><rect x="585" y="277.8" width="2" height="113.4" fill="#F7DDD0"/><rect x="587" y="277.8" width="1" height="113.4" fill="#F4DED2"/><rect x="588" y="277.8" width="1" height="113.4" fill="#EBDFDB"/><rect x="589" y="277.8" width="1" height="113.4" fill="#E4E1E0"/><rect x="590" y="277.8" width="3" height="113.4" fill="#E3E1E1"/><rect x="593" y="277.8" width="1" height="113.4" fill="#E1E1E3"/><rect x="594" y="277.8" width="2" height="113.4" fill="#D9E2E8"/><rect x="596" y="277.8" width="1" height="113.4" fill="#E7E0DD"/><rect x="597" y="277.8" width="1" height="113.4" fill="#F2DDD4"/><rect x="598" y="277.8" width="3" height="113.4" fill="#F5DDD2"/><rect x="601" y="277.8" width="1" height="113.4" fill="#F5D9CB"/><rect x="602" y="277.8" width="1" height="113.4" fill="#F7CBB5"/><rect x="603" y="277.8" width="1" height="113.4" fill="#F7C1A6"/><rect x="604" y="277.8" width="1" height="113.4" fill="#F6BB9D"/><rect x="605" y="277.8" width="2" height="113.4" fill="#F6B99B"/><rect x="607" y="277.8" width="1" height="113.4" fill="#F6BB9D"/><rect x="608" y="277.8" width="1" height="113.4" fill="#F8C0A5"/><rect x="609" y="277.8" width="1" height="113.4" fill="#F8C6AC"/><rect x="610" y="277.8" width="1" height="113.4" fill="#F9D1BC"/><rect x="611" y="277.8" width="1" height="113.4" fill="#FAD7C5"/><rect x="612" y="277.8" width="1" height="113.4" fill="#FAD8C6"/><rect x="613" y="277.8" width="1" height="113.4" fill="#F9D4C1"/><rect x="614" y="277.8" width="1" height="113.4" fill="#F7C3AC"/><rect x="615" y="277.8" width="1" height="113.4" fill="#F4AF91"/><rect x="616" y="277.8" width="1" height="113.4" fill="#F2A788"/><rect x="617" y="277.8" width="1" height="113.4" fill="#F1A282"/><rect x="618" y="277.8" width="1" height="113.4" fill="#F1A485"/><rect x="619" y="277.8" width="1" height="113.4" fill="#F5B89E"/><rect x="620" y="277.8" width="1" height="113.4" fill="#F9D0BC"/><rect x="621" y="277.8" width="1" height="113.4" fill="#F9D7C7"/><rect x="622" y="277.8" width="1" height="113.4" fill="#F4DCD0"/><rect x="623" y="277.8" width="2" height="113.4" fill="#F3DDD3"/><rect x="625" y="277.8" width="1" height="113.4" fill="#F4DCD0"/><rect x="626" y="277.8" width="1" height="113.4" fill="#F7D7C7"/><rect x="627" y="277.8" width="1" height="113.4" fill="#FAD4C0"/><rect x="628" y="277.8" width="2" height="113.4" fill="#FAD3BF"/><rect x="630" y="277.8" width="1" height="113.4" fill="#FBDBCB"/><rect x="631" y="277.8" width="1" height="113.4" fill="#FEFBF9"/></g><g><rect x="166" y="390.1" width="1" height="113.6" fill="#E8F2F8"/><rect x="167" y="390.1" width="1" height="113.6" fill="#A1CBE3"/><rect x="168" y="390.1" width="1" height="113.6" fill="#99C7E0"/><rect x="169" y="390.1" width="1" height="113.6" fill="#A2CCE2"/><rect x="170" y="390.1" width="1" height="113.6" fill="#9DC9E1"/><rect x="171" y="390.1" width="1" height="113.6" fill="#9CC8E0"/><rect x="172" y="390.1" width="1" height="113.6" fill="#A2CBE3"/><rect x="173" y="390.1" width="1" height="113.6" fill="#ABD0E5"/><rect x="174" y="390.1" width="6" height="113.6" fill="#ADD1E6"/><rect x="180" y="390.1" width="1" height="113.6" fill="#B0D3E7"/><rect x="181" y="390.1" width="1" height="113.6" fill="#BCD8E9"/><rect x="182" y="390.1" width="1" height="113.6" fill="#C4DCEB"/><rect x="183" y="390.1" width="4" height="113.6" fill="#C6DDEB"/><rect x="187" y="390.1" width="1" height="113.6" fill="#C7DDEB"/><rect x="188" y="390.1" width="1" height="113.6" fill="#CDE0EB"/><rect x="189" y="390.1" width="1" height="113.6" fill="#D4E2EA"/><rect x="190" y="390.1" width="1" height="113.6" fill="#DFE1E3"/><rect x="191" y="390.1" width="1" height="113.6" fill="#EEDED7"/><rect x="192" y="390.1" width="1" height="113.6" fill="#E9DDD8"/><rect x="193" y="390.1" width="1" height="113.6" fill="#CADBE5"/><rect x="194" y="390.1" width="6" height="113.6" fill="#C0DBEA"/><rect x="200" y="390.1" width="1" height="113.6" fill="#C1DBEA"/><rect x="201" y="390.1" width="1" height="113.6" fill="#C3DCEA"/><rect x="202" y="390.1" width="4" height="113.6" fill="#C4DCEA"/><rect x="206" y="390.1" width="1" height="113.6" fill="#C5DCEA"/><rect x="207" y="390.1" width="1" height="113.6" fill="#C9DFEB"/><rect x="208" y="390.1" width="1" height="113.6" fill="#CFE1EC"/><rect x="209" y="390.1" width="5" height="113.6" fill="#D0E2EC"/><rect x="214" y="390.1" width="1" height="113.6" fill="#D2E2EA"/><rect x="215" y="390.1" width="1" height="113.6" fill="#DDE1E3"/><rect x="216" y="390.1" width="1" height="113.6" fill="#EADFDA"/><rect x="217" y="390.1" width="2" height="113.6" fill="#EDDFD8"/><rect x="219" y="390.1" width="1" height="113.6" fill="#ECDFD9"/><rect x="220" y="390.1" width="1" height="113.6" fill="#E9E0DB"/><rect x="221" y="390.1" width="1" height="113.6" fill="#E4E1E0"/><rect x="222" y="390.1" width="3" height="113.6" fill="#E3E1E1"/><rect x="225" y="390.1" width="1" height="113.6" fill="#DEE1E4"/><rect x="226" y="390.1" width="1" height="113.6" fill="#CEDFE9"/><rect x="227" y="390.1" width="1" height="113.6" fill="#B7D6E7"/><rect x="228" y="390.1" width="1" height="113.6" fill="#AAD0E4"/><rect x="229" y="390.1" width="1" height="113.6" fill="#A8CFE4"/><rect x="230" y="390.1" width="1" height="113.6" fill="#ADD1E5"/><rect x="231" y="390.1" width="1" height="113.6" fill="#BAD8E9"/><rect x="232" y="390.1" width="1" height="113.6" fill="#BFDAEA"/><rect x="233" y="390.1" width="1" height="113.6" fill="#C1DBEA"/><rect x="234" y="390.1" width="1" height="113.6" fill="#CDDEE9"/><rect x="235" y="390.1" width="1" height="113.6" fill="#DAE2E7"/><rect x="236" y="390.1" width="6" height="113.6" fill="#DEE3E7"/><rect x="242" y="390.1" width="1" height="113.6" fill="#DFE3E6"/><rect x="243" y="390.1" width="1" height="113.6" fill="#E1E2E4"/><rect x="244" y="390.1" width="2" height="113.6" fill="#E3E1E1"/><rect x="246" y="390.1" width="1" height="113.6" fill="#E2E1E2"/><rect x="247" y="390.1" width="1" height="113.6" fill="#DEE3E7"/><rect x="248" y="390.1" width="1" height="113.6" fill="#DDE3E8"/><rect x="249" y="390.1" width="1" height="113.6" fill="#DEE3E7"/><rect x="250" y="390.1" width="1" height="113.6" fill="#E1E1E3"/><rect x="251" y="390.1" width="1" height="113.6" fill="#E6E0DD"/><rect x="252" y="390.1" width="1" height="113.6" fill="#E8DFDB"/><rect x="253" y="390.1" width="1" height="113.6" fill="#E5DFDD"/><rect x="254" y="390.1" width="1" height="113.6" fill="#D9E1E6"/><rect x="255" y="390.1" width="1" height="113.6" fill="#D1E2EB"/><rect x="256" y="390.1" width="12" height="113.6" fill="#D0E2EC"/><rect x="268" y="390.1" width="1" height="113.6" fill="#CEE1EC"/><rect x="269" y="390.1" width="1" height="113.6" fill="#CADFEB"/><rect x="270" y="390.1" width="19" height="113.6" fill="#C8DEEB"/><rect x="289" y="390.1" width="1" height="113.6" fill="#C6DDEB"/><rect x="290" y="390.1" width="1" height="113.6" fill="#C1DBEA"/><rect x="291" y="390.1" width="5" height="113.6" fill="#BFDAEA"/><rect x="296" y="390.1" width="1" height="113.6" fill="#BCD8E9"/><rect x="297" y="390.1" width="1" height="113.6" fill="#B0D3E6"/><rect x="298" y="390.1" width="1" height="113.6" fill="#A7CEE4"/><rect x="299" y="390.1" width="1" height="113.6" fill="#A5CDE3"/><rect x="300" y="390.1" width="1" height="113.6" fill="#A4CDE3"/><rect x="301" y="390.1" width="1" height="113.6" fill="#A0CAE2"/><rect x="302" y="390.1" width="1" height="113.6" fill="#97C5E0"/><rect x="303" y="390.1" width="1" height="113.6" fill="#94C4DF"/><rect x="304" y="390.1" width="1" height="113.6" fill="#A0C7DD"/><rect x="305" y="390.1" width="1" height="113.6" fill="#CBD1D7"/><rect x="306" y="390.1" width="1" height="113.6" fill="#EEDAD1"/><rect x="307" y="390.1" width="6" height="113.6" fill="#F6DCD0"/><rect x="313" y="390.1" width="4" height="113.6" fill="#F7DDD0"/><rect x="317" y="390.1" width="1" height="113.6" fill="#F6DDD1"/><rect x="318" y="390.1" width="1" height="113.6" fill="#F2DED4"/><rect x="319" y="390.1" width="1" height="113.6" fill="#ECDFD8"/><rect x="320" y="390.1" width="2" height="113.6" fill="#EBDFD9"/><rect x="322" y="390.1" width="1" height="113.6" fill="#ECDED7"/><rect x="323" y="390.1" width="1" height="113.6" fill="#F1D9CC"/><rect x="324" y="390.1" width="1" height="113.6" fill="#F8D1BD"/><rect x="325" y="390.1" width="9" height="113.6" fill="#FACFB8"/><rect x="334" y="390.1" width="1" height="113.6" fill="#FACEB6"/><rect x="335" y="390.1" width="1" height="113.6" fill="#F9C9B0"/><rect x="336" y="390.1" width="2" height="113.6" fill="#F9C8AE"/><rect x="338" y="390.1" width="1" height="113.6" fill="#F9C6AB"/><rect x="339" y="390.1" width="1" height="113.6" fill="#F7BFA4"/><rect x="340" y="390.1" width="4" height="113.6" fill="#F7BDA1"/><rect x="344" y="390.1" width="1" height="113.6" fill="#F7C0A6"/><rect x="345" y="390.1" width="1" height="113.6" fill="#F9CCB7"/><rect x="346" y="390.1" width="1" height="113.6" fill="#FAD4C2"/><rect x="347" y="390.1" width="3" height="113.6" fill="#FAD6C4"/><rect x="350" y="390.1" width="1" height="113.6" fill="#FAD6C3"/><rect x="351" y="390.1" width="1" height="113.6" fill="#FAD4C1"/><rect x="352" y="390.1" width="3" height="113.6" fill="#FAD3BF"/><rect x="355" y="390.1" width="1" height="113.6" fill="#FAD1BD"/><rect x="356" y="390.1" width="1" height="113.6" fill="#F8C6AE"/><rect x="357" y="390.1" width="1" height="113.6" fill="#F4B092"/><rect x="358" y="390.1" width="2" height="113.6" fill="#F3A98A"/><rect x="360" y="390.1" width="1" height="113.6" fill="#F4AE90"/><rect x="361" y="390.1" width="1" height="113.6" fill="#F7BFA4"/><rect x="362" y="390.1" width="1" height="113.6" fill="#F3C6AF"/><rect x="363" y="390.1" width="1" height="113.6" fill="#DDCDC6"/><rect x="364" y="390.1" width="1" height="113.6" fill="#C1D6E2"/><rect x="365" y="390.1" width="3" height="113.6" fill="#BAD8EA"/><rect x="368" y="390.1" width="1" height="113.6" fill="#B8D7E9"/><rect x="369" y="390.1" width="1" height="113.6" fill="#B1D4E7"/><rect x="370" y="390.1" width="1" height="113.6" fill="#A7CEE4"/><rect x="371" y="390.1" width="1" height="113.6" fill="#9CC8E0"/><rect x="372" y="390.1" width="1" height="113.6" fill="#92C2DE"/><rect x="373" y="390.1" width="1" height="113.6" fill="#99C6DF"/><rect x="374" y="390.1" width="1" height="113.6" fill="#BBD7E7"/><rect x="375" y="390.1" width="1" height="113.6" fill="#CDE1EB"/><rect x="376" y="390.1" width="1" height="113.6" fill="#D1E2EB"/><rect x="377" y="390.1" width="1" height="113.6" fill="#D7E2E8"/><rect x="378" y="390.1" width="1" height="113.6" fill="#E0E1E3"/><rect x="379" y="390.1" width="1" height="113.6" fill="#DFE0E1"/><rect x="380" y="390.1" width="1" height="113.6" fill="#CAD9E1"/><rect x="381" y="390.1" width="1" height="113.6" fill="#ABCEE2"/><rect x="382" y="390.1" width="4" height="113.6" fill="#A2CBE2"/><rect x="386" y="390.1" width="1" height="113.6" fill="#AEC3D1"/><rect x="387" y="390.1" width="1" height="113.6" fill="#D6A99A"/><rect x="388" y="390.1" width="1" height="113.6" fill="#EB9B7C"/><rect x="389" y="390.1" width="12" height="113.6" fill="#EE9978"/><rect x="401" y="390.1" width="1" height="113.6" fill="#EE9A79"/><rect x="402" y="390.1" width="1" height="113.6" fill="#F09E7D"/><rect x="403" y="390.1" width="2" height="113.6" fill="#F1A181"/><rect x="405" y="390.1" width="1" height="113.6" fill="#EF9D7C"/><rect x="406" y="390.1" width="1" height="113.6" fill="#EE9A79"/><rect x="407" y="390.1" width="10" height="113.6" fill="#EE9978"/><rect x="417" y="390.1" width="1" height="113.6" fill="#EE9A79"/><rect x="418" y="390.1" width="1" height="113.6" fill="#EF9C7C"/><rect x="419" y="390.1" width="1" height="113.6" fill="#F09F7F"/><rect x="420" y="390.1" width="2" height="113.6" fill="#F0A080"/><rect x="422" y="390.1" width="1" height="113.6" fill="#F0A181"/><rect x="423" y="390.1" width="1" height="113.6" fill="#F1A484"/><rect x="424" y="390.1" width="1" height="113.6" fill="#F3A889"/><rect x="425" y="390.1" width="1" height="113.6" fill="#F2A788"/><rect x="426" y="390.1" width="1" height="113.6" fill="#F1A282"/><rect x="427" y="390.1" width="7" height="113.6" fill="#F0A080"/><rect x="434" y="390.1" width="1" height="113.6" fill="#F1A282"/><rect x="435" y="390.1" width="1" height="113.6" fill="#F2A484"/><rect x="436" y="390.1" width="7" height="113.6" fill="#F2A585"/><rect x="443" y="390.1" width="1" height="113.6" fill="#F2A484"/><rect x="444" y="390.1" width="1" height="113.6" fill="#F1A181"/><rect x="445" y="390.1" width="13" height="113.6" fill="#F0A080"/><rect x="458" y="390.1" width="1" height="113.6" fill="#F0A181"/><rect x="459" y="390.1" width="1" height="113.6" fill="#F1A384"/><rect x="460" y="390.1" width="1" height="113.6" fill="#F2A686"/><rect x="461" y="390.1" width="4" height="113.6" fill="#F2A687"/><rect x="465" y="390.1" width="1" height="113.6" fill="#F3A98A"/><rect x="466" y="390.1" width="1" height="113.6" fill="#F5B395"/><rect x="467" y="390.1" width="1" height="113.6" fill="#F6B698"/><rect x="468" y="390.1" width="1" height="113.6" fill="#F6B79A"/><rect x="469" y="390.1" width="1" height="113.6" fill="#F7BEA2"/><rect x="470" y="390.1" width="1" height="113.6" fill="#F9C6AB"/><rect x="471" y="390.1" width="1" height="113.6" fill="#F9C8AE"/><rect x="472" y="390.1" width="1" height="113.6" fill="#F9C8AF"/><rect x="473" y="390.1" width="1" height="113.6" fill="#F9CAB1"/><rect x="474" y="390.1" width="5" height="113.6" fill="#F9CBB3"/><rect x="479" y="390.1" width="1" height="113.6" fill="#F9CCB5"/><rect x="480" y="390.1" width="1" height="113.6" fill="#F9D1BB"/><rect x="481" y="390.1" width="1" height="113.6" fill="#FAD6C4"/><rect x="482" y="390.1" width="8" height="113.6" fill="#FAD8C6"/><rect x="490" y="390.1" width="1" height="113.6" fill="#F9D3C0"/><rect x="491" y="390.1" width="1" height="113.6" fill="#F6C0A8"/><rect x="492" y="390.1" width="1" height="113.6" fill="#F4AE90"/><rect x="493" y="390.1" width="7" height="113.6" fill="#F3A98A"/><rect x="500" y="390.1" width="1" height="113.6" fill="#F4AE90"/><rect x="501" y="390.1" width="1" height="113.6" fill="#F7BFA4"/><rect x="502" y="390.1" width="1" height="113.6" fill="#F8C1A6"/><rect x="503" y="390.1" width="1" height="113.6" fill="#F6B89A"/><rect x="504" y="390.1" width="1" height="113.6" fill="#F5B394"/><rect x="505" y="390.1" width="2" height="113.6" fill="#F5B293"/><rect x="507" y="390.1" width="1" height="113.6" fill="#F5B596"/><rect x="508" y="390.1" width="1" height="113.6" fill="#F7BDA1"/><rect x="509" y="390.1" width="1" height="113.6" fill="#F8C3A9"/><rect x="510" y="390.1" width="5" height="113.6" fill="#F8C4AA"/><rect x="515" y="390.1" width="1" height="113.6" fill="#F8C6AD"/><rect x="516" y="390.1" width="1" height="113.6" fill="#F9CCB6"/><rect x="517" y="390.1" width="1" height="113.6" fill="#FAD1BC"/><rect x="518" y="390.1" width="1" height="113.6" fill="#F9CCB6"/><rect x="519" y="390.1" width="1" height="113.6" fill="#F8C6AD"/><rect x="520" y="390.1" width="1" height="113.6" fill="#F5C7B0"/><rect x="521" y="390.1" width="1" height="113.6" fill="#E8D4CA"/><rect x="522" y="390.1" width="1" height="113.6" fill="#DBE0E4"/><rect x="523" y="390.1" width="10" height="113.6" fill="#D8E3EA"/><rect x="533" y="390.1" width="1" height="113.6" fill="#D7E3EA"/><rect x="534" y="390.1" width="1" height="113.6" fill="#D3E2EB"/><rect x="535" y="390.1" width="1" height="113.6" fill="#CDE0EC"/><rect x="536" y="390.1" width="2" height="113.6" fill="#CCE0EC"/><rect x="538" y="390.1" width="1" height="113.6" fill="#C8DEEC"/><rect x="539" y="390.1" width="1" height="113.6" fill="#BEDAEA"/><rect x="540" y="390.1" width="6" height="113.6" fill="#BAD8EA"/><rect x="546" y="390.1" width="1" height="113.6" fill="#C6D9E5"/><rect x="547" y="390.1" width="1" height="113.6" fill="#E9DCD7"/><rect x="548" y="390.1" width="6" height="113.6" fill="#F5DDD2"/><rect x="554" y="390.1" width="1" height="113.6" fill="#F3DDD3"/><rect x="555" y="390.1" width="1" height="113.6" fill="#F0DED5"/><rect x="556" y="390.1" width="4" height="113.6" fill="#EFDED6"/><rect x="560" y="390.1" width="1" height="113.6" fill="#F1DBD0"/><rect x="561" y="390.1" width="1" height="113.6" fill="#F8D2BE"/><rect x="562" y="390.1" width="1" height="113.6" fill="#F7D2BF"/><rect x="563" y="390.1" width="1" height="113.6" fill="#EEDCD2"/><rect x="564" y="390.1" width="1" height="113.6" fill="#EBDFD9"/><rect x="565" y="390.1" width="1" height="113.6" fill="#EADFDA"/><rect x="566" y="390.1" width="1" height="113.6" fill="#E5E1DF"/><rect x="567" y="390.1" width="1" height="113.6" fill="#DBE3E8"/><rect x="568" y="390.1" width="2" height="113.6" fill="#D8E4EB"/><rect x="570" y="390.1" width="1" height="113.6" fill="#DAE3E9"/><rect x="571" y="390.1" width="1" height="113.6" fill="#E1E1E2"/><rect x="572" y="390.1" width="1" height="113.6" fill="#E8DFDC"/><rect x="573" y="390.1" width="1" height="113.6" fill="#EADFDA"/><rect x="574" y="390.1" width="1" height="113.6" fill="#E7E0DC"/><rect x="575" y="390.1" width="1" height="113.6" fill="#DFE2E4"/><rect x="576" y="390.1" width="1" height="113.6" fill="#DBE3E8"/><rect x="577" y="390.1" width="1" height="113.6" fill="#DBE2E7"/><rect x="578" y="390.1" width="1" height="113.6" fill="#E4DDD9"/><rect x="579" y="390.1" width="1" height="113.6" fill="#F5D2C0"/><rect x="580" y="390.1" width="2" height="113.6" fill="#FACFB8"/><rect x="582" y="390.1" width="1" height="113.6" fill="#F9D1BC"/><rect x="583" y="390.1" width="1" height="113.6" fill="#F5D9CA"/><rect x="584" y="390.1" width="1" height="113.6" fill="#F3DCD2"/><rect x="585" y="390.1" width="1" height="113.6" fill="#F4DACE"/><rect x="586" y="390.1" width="1" height="113.6" fill="#F8D3BF"/><rect x="587" y="390.1" width="1" height="113.6" fill="#FACFB9"/><rect x="588" y="390.1" width="2" height="113.6" fill="#FACFB8"/><rect x="590" y="390.1" width="1" height="113.6" fill="#F9CAB2"/><rect x="591" y="390.1" width="1" height="113.6" fill="#F6B79B"/><rect x="592" y="390.1" width="1" height="113.6" fill="#F3AB8D"/><rect x="593" y="390.1" width="4" height="113.6" fill="#F3A98A"/><rect x="597" y="390.1" width="1" height="113.6" fill="#F3AB8C"/><rect x="598" y="390.1" width="1" height="113.6" fill="#F5B193"/><rect x="599" y="390.1" width="1" height="113.6" fill="#F7BA9C"/><rect x="600" y="390.1" width="1" height="113.6" fill="#F7BC9F"/><rect x="601" y="390.1" width="1" height="113.6" fill="#F8C0A4"/><rect x="602" y="390.1" width="1" height="113.6" fill="#FACDB5"/><rect x="603" y="390.1" width="1" height="113.6" fill="#FBD4BF"/><rect x="604" y="390.1" width="1" height="113.6" fill="#FBD5C0"/><rect x="605" y="390.1" width="1" height="113.6" fill="#FBD6C2"/><rect x="606" y="390.1" width="1" height="113.6" fill="#FAD7C5"/><rect x="607" y="390.1" width="2" height="113.6" fill="#FAD8C6"/><rect x="609" y="390.1" width="1" height="113.6" fill="#F9D1BD"/><rect x="610" y="390.1" width="1" height="113.6" fill="#F6BBA1"/><rect x="611" y="390.1" width="1" height="113.6" fill="#F4B092"/><rect x="612" y="390.1" width="1" height="113.6" fill="#F4AE90"/><rect x="613" y="390.1" width="1" height="113.6" fill="#F2B297"/><rect x="614" y="390.1" width="1" height="113.6" fill="#E8C6B8"/><rect x="615" y="390.1" width="1" height="113.6" fill="#DBDEE0"/><rect x="616" y="390.1" width="2" height="113.6" fill="#D8E4EB"/><rect x="618" y="390.1" width="1" height="113.6" fill="#DAE3E9"/><rect x="619" y="390.1" width="1" height="113.6" fill="#E1E2E3"/><rect x="620" y="390.1" width="1" height="113.6" fill="#E3E1E1"/><rect x="621" y="390.1" width="1" height="113.6" fill="#E0E1E3"/><rect x="622" y="390.1" width="1" height="113.6" fill="#D6E3EA"/><rect x="623" y="390.1" width="1" height="113.6" fill="#D3E3EC"/><rect x="624" y="390.1" width="1" height="113.6" fill="#D1E2EC"/><rect x="625" y="390.1" width="1" height="113.6" fill="#C7DEEB"/><rect x="626" y="390.1" width="1" height="113.6" fill="#BBD8E9"/><rect x="627" y="390.1" width="3" height="113.6" fill="#B8D7E9"/><rect x="630" y="390.1" width="1" height="113.6" fill="#C5DEED"/><rect x="631" y="390.1" width="1" height="113.6" fill="#F8FBFD"/></g><g><rect x="166" y="502.7" width="1" height="113.3" fill="#FDF8F6"/><rect x="167" y="502.7" width="1" height="113.3" fill="#F7E2D9"/><rect x="168" y="502.7" width="1" height="113.3" fill="#F0DED6"/><rect x="169" y="502.7" width="1" height="113.3" fill="#E2E2E4"/><rect x="170" y="502.7" width="1" height="113.3" fill="#DDE3E8"/><rect x="171" y="502.7" width="1" height="113.3" fill="#DFE3E6"/><rect x="172" y="502.7" width="1" height="113.3" fill="#E7E0DF"/><rect x="173" y="502.7" width="1" height="113.3" fill="#F0DED6"/><rect x="174" y="502.7" width="1" height="113.3" fill="#F3DDD3"/><rect x="175" y="502.7" width="1" height="113.3" fill="#F4DCD2"/><rect x="176" y="502.7" width="1" height="113.3" fill="#F5DBCD"/><rect x="177" y="502.7" width="1" height="113.3" fill="#F7D9CB"/><rect x="178" y="502.7" width="1" height="113.3" fill="#F6DACB"/><rect x="179" y="502.7" width="1" height="113.3" fill="#F4DCD0"/><rect x="180" y="502.7" width="1" height="113.3" fill="#ECDCD6"/><rect x="181" y="502.7" width="1" height="113.3" fill="#D3DBE1"/><rect x="182" y="502.7" width="1" height="113.3" fill="#C2DAE9"/><rect x="183" y="502.7" width="4" height="113.3" fill="#BFDAEA"/><rect x="187" y="502.7" width="1" height="113.3" fill="#B9D7E8"/><rect x="188" y="502.7" width="1" height="113.3" fill="#ACD1E5"/><rect x="189" y="502.7" width="3" height="113.3" fill="#A8CFE4"/><rect x="192" y="502.7" width="1" height="113.3" fill="#ABD0E4"/><rect x="193" y="502.7" width="1" height="113.3" fill="#BDD6E4"/><rect x="194" y="502.7" width="1" height="113.3" fill="#D8DEE3"/><rect x="195" y="502.7" width="2" height="113.3" fill="#E0E1E3"/><rect x="197" y="502.7" width="1" height="113.3" fill="#DFE1E3"/><rect x="198" y="502.7" width="1" height="113.3" fill="#DBE1E6"/><rect x="199" y="502.7" width="1" height="113.3" fill="#D2E2EB"/><rect x="200" y="502.7" width="7" height="113.3" fill="#CFE2EC"/><rect x="207" y="502.7" width="1" height="113.3" fill="#CDE1EC"/><rect x="208" y="502.7" width="1" height="113.3" fill="#C8DEEB"/><rect x="209" y="502.7" width="1" height="113.3" fill="#C5DCEA"/><rect x="210" y="502.7" width="5" height="113.3" fill="#C4DCEA"/><rect x="215" y="502.7" width="1" height="113.3" fill="#C3DBEA"/><rect x="216" y="502.7" width="1" height="113.3" fill="#BDD9E9"/><rect x="217" y="502.7" width="1" height="113.3" fill="#BCD8E9"/><rect x="218" y="502.7" width="1" height="113.3" fill="#C6DDEA"/><rect x="219" y="502.7" width="1" height="113.3" fill="#D4E2EB"/><rect x="220" y="502.7" width="2" height="113.3" fill="#D8E4EB"/><rect x="222" y="502.7" width="1" height="113.3" fill="#C9DDE8"/><rect x="223" y="502.7" width="1" height="113.3" fill="#9CC7E0"/><rect x="224" y="502.7" width="1" height="113.3" fill="#8DC0DD"/><rect x="225" y="502.7" width="1" height="113.3" fill="#8EC0DD"/><rect x="226" y="502.7" width="1" height="113.3" fill="#90C2DE"/><rect x="227" y="502.7" width="1" height="113.3" fill="#93C4DF"/><rect x="228" y="502.7" width="1" height="113.3" fill="#9CC7DF"/><rect x="229" y="502.7" width="1" height="113.3" fill="#BAD2E1"/><rect x="230" y="502.7" width="1" height="113.3" fill="#D8DEE3"/><rect x="231" y="502.7" width="2" height="113.3" fill="#E0E1E3"/><rect x="233" y="502.7" width="1" height="113.3" fill="#DFE1E4"/><rect x="234" y="502.7" width="1" height="113.3" fill="#D9E1E7"/><rect x="235" y="502.7" width="1" height="113.3" fill="#D1E2EB"/><rect x="236" y="502.7" width="5" height="113.3" fill="#CFE2EC"/><rect x="241" y="502.7" width="1" height="113.3" fill="#D1E2EB"/><rect x="242" y="502.7" width="1" height="113.3" fill="#D8E3EA"/><rect x="243" y="502.7" width="6" height="113.3" fill="#DAE3E9"/><rect x="249" y="502.7" width="1" height="113.3" fill="#D8E2E9"/><rect x="250" y="502.7" width="1" height="113.3" fill="#D0E0E9"/><rect x="251" y="502.7" width="1" height="113.3" fill="#C3DBEA"/><rect x="252" y="502.7" width="9" height="113.3" fill="#BFDAEA"/><rect x="261" y="502.7" width="7" height="113.3" fill="#C0DBEA"/><rect x="268" y="502.7" width="1" height="113.3" fill="#C3DCEA"/><rect x="269" y="502.7" width="1" height="113.3" fill="#CDE1EC"/><rect x="270" y="502.7" width="6" height="113.3" fill="#D0E2EC"/><rect x="276" y="502.7" width="1" height="113.3" fill="#D2E3EC"/><rect x="277" y="502.7" width="10" height="113.3" fill="#D3E3EC"/><rect x="287" y="502.7" width="1" height="113.3" fill="#D1E2EC"/><rect x="288" y="502.7" width="1" height="113.3" fill="#C7DEEB"/><rect x="289" y="502.7" width="1" height="113.3" fill="#BBD8E9"/><rect x="290" y="502.7" width="6" height="113.3" fill="#B8D7E9"/><rect x="296" y="502.7" width="1" height="113.3" fill="#BBD8E9"/><rect x="297" y="502.7" width="1" height="113.3" fill="#C5DDEB"/><rect x="298" y="502.7" width="1" height="113.3" fill="#CDE1EC"/><rect x="299" y="502.7" width="1" height="113.3" fill="#CFE2EC"/><rect x="300" y="502.7" width="1" height="113.3" fill="#D5E1E8"/><rect x="301" y="502.7" width="1" height="113.3" fill="#E9DFDA"/><rect x="302" y="502.7" width="2" height="113.3" fill="#EFDED6"/><rect x="304" y="502.7" width="1" height="113.3" fill="#EBDED9"/><rect x="305" y="502.7" width="1" height="113.3" fill="#DDE0E2"/><rect x="306" y="502.7" width="1" height="113.3" fill="#D2E2EA"/><rect x="307" y="502.7" width="1" height="113.3" fill="#CCE0EC"/><rect x="308" y="502.7" width="1" height="113.3" fill="#C1DBEA"/><rect x="309" y="502.7" width="1" height="113.3" fill="#B9D8E9"/><rect x="310" y="502.7" width="7" height="113.3" fill="#B8D7E9"/><rect x="317" y="502.7" width="1" height="113.3" fill="#B7D7E9"/><rect x="318" y="502.7" width="1" height="113.3" fill="#B3D4E8"/><rect x="319" y="502.7" width="1" height="113.3" fill="#AED2E6"/><rect x="320" y="502.7" width="6" height="113.3" fill="#ADD1E6"/><rect x="326" y="502.7" width="1" height="113.3" fill="#AFD2E6"/><rect x="327" y="502.7" width="1" height="113.3" fill="#B4D5E8"/><rect x="328" y="502.7" width="1" height="113.3" fill="#B7D7E9"/><rect x="329" y="502.7" width="7" height="113.3" fill="#B8D7E9"/><rect x="336" y="502.7" width="1" height="113.3" fill="#B4D5E8"/><rect x="337" y="502.7" width="1" height="113.3" fill="#AFD2E6"/><rect x="338" y="502.7" width="2" height="113.3" fill="#ADD1E6"/><rect x="340" y="502.7" width="1" height="113.3" fill="#A9CFE5"/><rect x="341" y="502.7" width="1" height="113.3" fill="#9CC8E1"/><rect x="342" y="502.7" width="1" height="113.3" fill="#95C5DF"/><rect x="343" y="502.7" width="6" height="113.3" fill="#94C4DF"/><rect x="349" y="502.7" width="1" height="113.3" fill="#9AC5DD"/><rect x="350" y="502.7" width="1" height="113.3" fill="#BBCCD5"/><rect x="351" y="502.7" width="1" height="113.3" fill="#ECD5C9"/><rect x="352" y="502.7" width="1" height="113.3" fill="#FAD8C7"/><rect x="353" y="502.7" width="1" height="113.3" fill="#F9DACA"/><rect x="354" y="502.7" width="1" height="113.3" fill="#F7DCCF"/><rect x="355" y="502.7" width="1" height="113.3" fill="#F4DED3"/><rect x="356" y="502.7" width="1" height="113.3" fill="#E6E0DE"/><rect x="357" y="502.7" width="1" height="113.3" fill="#D8E2E8"/><rect x="358" y="502.7" width="2" height="113.3" fill="#D5E3EB"/><rect x="360" y="502.7" width="1" height="113.3" fill="#D8E3E9"/><rect x="361" y="502.7" width="1" height="113.3" fill="#E0E1E3"/><rect x="362" y="502.7" width="1" height="113.3" fill="#E4DEDD"/><rect x="363" y="502.7" width="1" height="113.3" fill="#E7CCC2"/><rect x="364" y="502.7" width="1" height="113.3" fill="#EEAA90"/><rect x="365" y="502.7" width="2" height="113.3" fill="#F0A080"/><rect x="367" y="502.7" width="1" height="113.3" fill="#F1A383"/><rect x="368" y="502.7" width="1" height="113.3" fill="#F3AC8D"/><rect x="369" y="502.7" width="1" height="113.3" fill="#F5B192"/><rect x="370" y="502.7" width="3" height="113.3" fill="#F5B293"/><rect x="373" y="502.7" width="1" height="113.3" fill="#F6BA9E"/><rect x="374" y="502.7" width="1" height="113.3" fill="#F9D3C0"/><rect x="375" y="502.7" width="2" height="113.3" fill="#FADBCB"/><rect x="377" y="502.7" width="1" height="113.3" fill="#F8DBCD"/><rect x="378" y="502.7" width="1" height="113.3" fill="#F1DDD3"/><rect x="379" y="502.7" width="1" height="113.3" fill="#EBDDD7"/><rect x="380" y="502.7" width="1" height="113.3" fill="#EFD7CB"/><rect x="381" y="502.7" width="1" height="113.3" fill="#F7CEB8"/><rect x="382" y="502.7" width="4" height="113.3" fill="#FACBB2"/><rect x="386" y="502.7" width="1" height="113.3" fill="#F3CFBB"/><rect x="387" y="502.7" width="1" height="113.3" fill="#DDDBD9"/><rect x="388" y="502.7" width="1" height="113.3" fill="#D2E1EA"/><rect x="389" y="502.7" width="12" height="113.3" fill="#D0E2EC"/><rect x="401" y="502.7" width="1" height="113.3" fill="#D1E2EC"/><rect x="402" y="502.7" width="1" height="113.3" fill="#D6E3EA"/><rect x="403" y="502.7" width="1" height="113.3" fill="#DCE3E8"/><rect x="404" y="502.7" width="10" height="113.3" fill="#DDE3E8"/><rect x="414" y="502.7" width="1" height="113.3" fill="#DEE3E7"/><rect x="415" y="502.7" width="1" height="113.3" fill="#E1E2E3"/><rect x="416" y="502.7" width="1" height="113.3" fill="#E5E0DE"/><rect x="417" y="502.7" width="3" height="113.3" fill="#E6E0DD"/><rect x="420" y="502.7" width="1" height="113.3" fill="#E7E0DC"/><rect x="421" y="502.7" width="1" height="113.3" fill="#ECDED8"/><rect x="422" y="502.7" width="1" height="113.3" fill="#F2DDD4"/><rect x="423" y="502.7" width="2" height="113.3" fill="#F3DDD3"/><rect x="425" y="502.7" width="1" height="113.3" fill="#EFDED7"/><rect x="426" y="502.7" width="1" height="113.3" fill="#E6E0DE"/><rect x="427" y="502.7" width="2" height="113.3" fill="#E3E1E1"/><rect x="429" y="502.7" width="1" height="113.3" fill="#E6E0DF"/><rect x="430" y="502.7" width="1" height="113.3" fill="#EEDED7"/><rect x="431" y="502.7" width="1" height="113.3" fill="#F2DDD4"/><rect x="432" y="502.7" width="6" height="113.3" fill="#F3DDD3"/><rect x="438" y="502.7" width="1" height="113.3" fill="#E4DAD6"/><rect x="439" y="502.7" width="1" height="113.3" fill="#B7D2E1"/><rect x="440" y="502.7" width="3" height="113.3" fill="#A8CFE4"/><rect x="443" y="502.7" width="1" height="113.3" fill="#A9CFE4"/><rect x="444" y="502.7" width="1" height="113.3" fill="#ADD2E6"/><rect x="445" y="502.7" width="1" height="113.3" fill="#B5D6E8"/><rect x="446" y="502.7" width="2" height="113.3" fill="#B8D7E9"/><rect x="448" y="502.7" width="1" height="113.3" fill="#BBD8E9"/><rect x="449" y="502.7" width="1" height="113.3" fill="#C6DDEB"/><rect x="450" y="502.7" width="1" height="113.3" fill="#CBE0EC"/><rect x="451" y="502.7" width="1" height="113.3" fill="#CCE0EC"/><rect x="452" y="502.7" width="1" height="113.3" fill="#CBDFEC"/><rect x="453" y="502.7" width="1" height="113.3" fill="#C4DCEB"/><rect x="454" y="502.7" width="1" height="113.3" fill="#BCD9EA"/><rect x="455" y="502.7" width="3" height="113.3" fill="#BAD8EA"/><rect x="458" y="502.7" width="1" height="113.3" fill="#B8D7EA"/><rect x="459" y="502.7" width="1" height="113.3" fill="#B3D4E8"/><rect x="460" y="502.7" width="1" height="113.3" fill="#AED2E6"/><rect x="461" y="502.7" width="4" height="113.3" fill="#ADD1E6"/><rect x="465" y="502.7" width="1" height="113.3" fill="#A9CFE5"/><rect x="466" y="502.7" width="1" height="113.3" fill="#9EC9E1"/><rect x="467" y="502.7" width="1" height="113.3" fill="#9AC7E0"/><rect x="468" y="502.7" width="1" height="113.3" fill="#98C6DF"/><rect x="469" y="502.7" width="1" height="113.3" fill="#91C2DE"/><rect x="470" y="502.7" width="1" height="113.3" fill="#90C2DD"/><rect x="471" y="502.7" width="1" height="113.3" fill="#99C6E0"/><rect x="472" y="502.7" width="1" height="113.3" fill="#A8CEE5"/><rect x="473" y="502.7" width="3" height="113.3" fill="#ADD1E6"/><rect x="476" y="502.7" width="1" height="113.3" fill="#AFD2E6"/><rect x="477" y="502.7" width="1" height="113.3" fill="#B9D7E8"/><rect x="478" y="502.7" width="1" height="113.3" fill="#C8DEEB"/><rect x="479" y="502.7" width="1" height="113.3" fill="#CADFEC"/><rect x="480" y="502.7" width="1" height="113.3" fill="#C3DCEB"/><rect x="481" y="502.7" width="1" height="113.3" fill="#BAD8E9"/><rect x="482" y="502.7" width="8" height="113.3" fill="#B8D7E9"/><rect x="490" y="502.7" width="1" height="113.3" fill="#BFD6E4"/><rect x="491" y="502.7" width="1" height="113.3" fill="#D9D3D0"/><rect x="492" y="502.7" width="1" height="113.3" fill="#F3D0BD"/><rect x="493" y="502.7" width="3" height="113.3" fill="#FACFB8"/><rect x="496" y="502.7" width="1" height="113.3" fill="#FAD0BA"/><rect x="497" y="502.7" width="1" height="113.3" fill="#FAD6C3"/><rect x="498" y="502.7" width="1" height="113.3" fill="#FADAC9"/><rect x="499" y="502.7" width="1" height="113.3" fill="#FADBCB"/><rect x="500" y="502.7" width="1" height="113.3" fill="#F9D4C1"/><rect x="501" y="502.7" width="1" height="113.3" fill="#F7BDA2"/><rect x="502" y="502.7" width="1" height="113.3" fill="#F6B698"/><rect x="503" y="502.7" width="1" height="113.3" fill="#F6B89B"/><rect x="504" y="502.7" width="1" height="113.3" fill="#F8C0A4"/><rect x="505" y="502.7" width="2" height="113.3" fill="#F8C2A7"/><rect x="507" y="502.7" width="1" height="113.3" fill="#F8C0A4"/><rect x="508" y="502.7" width="1" height="113.3" fill="#F6B89B"/><rect x="509" y="502.7" width="1" height="113.3" fill="#F5B394"/><rect x="510" y="502.7" width="10" height="113.3" fill="#F5B293"/><rect x="520" y="502.7" width="1" height="113.3" fill="#F4B090"/><rect x="521" y="502.7" width="1" height="113.3" fill="#F2A686"/><rect x="522" y="502.7" width="1" height="113.3" fill="#EF9C7B"/><rect x="523" y="502.7" width="23" height="113.3" fill="#EE9978"/><rect x="546" y="502.7" width="1" height="113.3" fill="#EF9B7B"/><rect x="547" y="502.7" width="1" height="113.3" fill="#F1A382"/><rect x="548" y="502.7" width="4" height="113.3" fill="#F2A585"/><rect x="552" y="502.7" width="1" height="113.3" fill="#F2A686"/><rect x="553" y="502.7" width="1" height="113.3" fill="#F3A889"/><rect x="554" y="502.7" width="1" height="113.3" fill="#F4AB8C"/><rect x="555" y="502.7" width="6" height="113.3" fill="#F4AC8D"/><rect x="561" y="502.7" width="1" height="113.3" fill="#F4AB8C"/><rect x="562" y="502.7" width="1" height="113.3" fill="#F3A889"/><rect x="563" y="502.7" width="1" height="113.3" fill="#F2A686"/><rect x="564" y="502.7" width="3" height="113.3" fill="#F2A585"/><rect x="567" y="502.7" width="1" height="113.3" fill="#F2A484"/><rect x="568" y="502.7" width="1" height="113.3" fill="#F0A181"/><rect x="569" y="502.7" width="9" height="113.3" fill="#F0A080"/><rect x="578" y="502.7" width="1" height="113.3" fill="#F1A484"/><rect x="579" y="502.7" width="1" height="113.3" fill="#F4AE8F"/><rect x="580" y="502.7" width="3" height="113.3" fill="#F5B293"/><rect x="583" y="502.7" width="1" height="113.3" fill="#F5B495"/><rect x="584" y="502.7" width="1" height="113.3" fill="#F7BA9D"/><rect x="585" y="502.7" width="5" height="113.3" fill="#F7BC9F"/><rect x="590" y="502.7" width="1" height="113.3" fill="#F3C1A9"/><rect x="591" y="502.7" width="1" height="113.3" fill="#E7D4CC"/><rect x="592" y="502.7" width="1" height="113.3" fill="#DFE1E4"/><rect x="593" y="502.7" width="1" height="113.3" fill="#E1E2E4"/><rect x="594" y="502.7" width="1" height="113.3" fill="#EFDFD8"/><rect x="595" y="502.7" width="1" height="113.3" fill="#F6DDD1"/><rect x="596" y="502.7" width="5" height="113.3" fill="#F7DDD0"/><rect x="601" y="502.7" width="1" height="113.3" fill="#F2DED4"/><rect x="602" y="502.7" width="1" height="113.3" fill="#E2E2E2"/><rect x="603" y="502.7" width="1" height="113.3" fill="#D9E4EA"/><rect x="604" y="502.7" width="1" height="113.3" fill="#DDE3E7"/><rect x="605" y="502.7" width="1" height="113.3" fill="#ECDFD9"/><rect x="606" y="502.7" width="1" height="113.3" fill="#F2DDD3"/><rect x="607" y="502.7" width="3" height="113.3" fill="#F3DDD3"/><rect x="610" y="502.7" width="1" height="113.3" fill="#EEDED8"/><rect x="611" y="502.7" width="1" height="113.3" fill="#DDE3E6"/><rect x="612" y="502.7" width="1" height="113.3" fill="#D8E4EB"/><rect x="613" y="502.7" width="1" height="113.3" fill="#DBE2E7"/><rect x="614" y="502.7" width="1" height="113.3" fill="#E7DBD5"/><rect x="615" y="502.7" width="1" height="113.3" fill="#F5D2BF"/><rect x="616" y="502.7" width="1" height="113.3" fill="#F6D4C2"/><rect x="617" y="502.7" width="1" height="113.3" fill="#F1DCD1"/><rect x="618" y="502.7" width="1" height="113.3" fill="#EFDED6"/><rect x="619" y="502.7" width="1" height="113.3" fill="#EFD8CE"/><rect x="620" y="502.7" width="1" height="113.3" fill="#F0C2AE"/><rect x="621" y="502.7" width="1" height="113.3" fill="#F2AB8D"/><rect x="622" y="502.7" width="2" height="113.3" fill="#F2A585"/><rect x="624" y="502.7" width="1" height="113.3" fill="#F2A687"/><rect x="625" y="502.7" width="1" height="113.3" fill="#F4AB8B"/><rect x="626" y="502.7" width="4" height="113.3" fill="#F4AC8D"/><rect x="630" y="502.7" width="1" height="113.3" fill="#F6BBA2"/><rect x="631" y="502.7" width="1" height="113.3" fill="#FEF7F4"/></g>
<g font-size="28.8px" fill="#000"><text transform="translate(636.7,225.4) scale(1,1.05)">T</text><text transform="translate(636.7,337.8) scale(1,1.05)">PAT</text><text transform="translate(636.7,450.3) scale(1,1.05)">P</text><text transform="translate(636.7,562.8) scale(1,1.05)">PA</text></g>
</svg>
</body></html>
